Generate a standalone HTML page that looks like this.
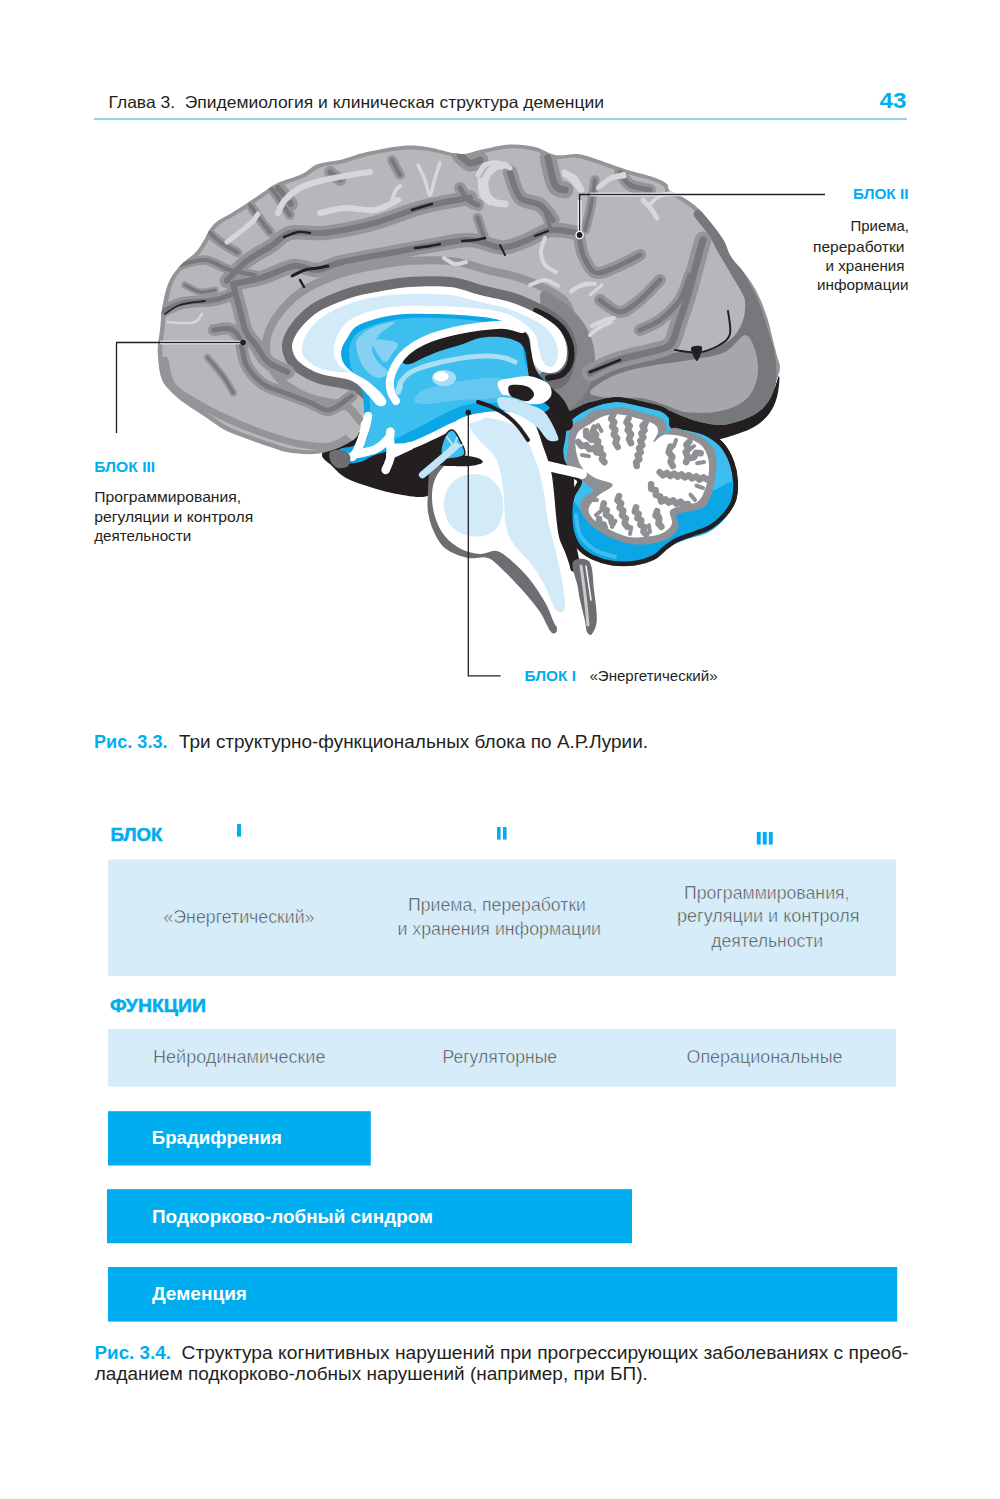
<!DOCTYPE html>
<html><head><meta charset="utf-8"><title>Page 43</title>
<style>
html,body{margin:0;padding:0;background:#fff;}
body{width:1000px;height:1499px;position:relative;overflow:hidden;font-family:"Liberation Sans", sans-serif;}
</style></head>
<body>
<svg width="1000" height="1499" viewBox="0 0 1000 1499" style="position:absolute;left:0;top:0">
<g font-family='"Liberation Sans", sans-serif'>

<rect x="237" y="824" width="4" height="12.6" fill="#00aeef"/>
<rect x="497" y="827" width="3.6" height="12.6" fill="#00aeef"/>
<rect x="503" y="827" width="3.6" height="12.6" fill="#00aeef"/>
<rect x="756.8" y="832" width="3.9" height="12.6" fill="#00aeef"/>
<rect x="762.8" y="832" width="3.9" height="12.6" fill="#00aeef"/>
<rect x="768.8" y="832" width="3.9" height="12.6" fill="#00aeef"/>
<rect x="108" y="859.5" width="788" height="116.5" fill="#d7ecf9"/>
<rect x="108" y="1029" width="788" height="57.5" fill="#d7ecf9"/>
<rect x="108" y="1111.2" width="262.8" height="54.3" fill="#00aeef"/>
<rect x="107" y="1189.2" width="525" height="54" fill="#00aeef"/>
<rect x="108" y="1267" width="789.2" height="54.6" fill="#00aeef"/>
<line x1="94" y1="119" x2="907" y2="119" stroke="#6ec4e9" stroke-width="1.6"/>

<path d="M322.0,454.0 C323.3,449.7 330.3,444.8 340.0,440.0 C349.7,435.2 365.0,430.0 380.0,425.0 C395.0,420.0 413.3,415.0 430.0,410.0 C446.7,405.0 466.7,401.7 480.0,395.0 C493.3,388.3 502.0,378.3 510.0,370.0 C518.0,361.7 522.2,344.7 528.0,345.0 C533.8,345.3 538.8,363.7 545.0,372.0 C551.2,380.3 555.8,391.2 565.0,395.0 C574.2,398.8 587.5,394.5 600.0,395.0 C612.5,395.5 628.3,396.3 640.0,398.0 C651.7,399.7 660.0,402.2 670.0,405.0 C680.0,407.8 688.3,413.3 700.0,415.0 C711.7,416.7 728.3,418.3 740.0,415.0 C751.7,411.7 763.5,401.5 770.0,395.0 C776.5,388.5 777.8,375.7 779.0,376.0 C780.2,376.3 778.7,390.7 777.0,397.0 C775.3,403.3 772.8,409.0 769.0,414.0 C765.2,419.0 760.3,423.3 754.0,427.0 C747.7,430.7 737.5,433.8 731.0,436.0 C724.5,438.2 720.2,439.3 715.0,440.0 C709.8,440.7 705.0,440.7 700.0,440.0 C695.0,439.3 689.7,437.3 685.0,436.0 C680.3,434.7 675.3,434.7 672.0,432.0 C668.7,429.3 668.7,422.8 665.0,420.0 C661.3,417.2 657.5,416.7 650.0,415.0 C642.5,413.3 628.3,410.8 620.0,410.0 C611.7,409.2 607.5,409.3 600.0,410.0 C592.5,410.7 580.3,409.0 575.0,414.0 C569.7,419.0 568.2,429.0 568.0,440.0 C567.8,451.0 573.0,465.0 574.0,480.0 C575.0,495.0 573.0,515.7 574.0,530.0 C575.0,544.3 580.0,559.0 580.0,566.0 C580.0,573.0 577.0,572.7 574.0,572.0 C571.0,571.3 566.3,566.5 562.0,562.0 C557.7,557.5 550.8,555.3 548.0,545.0 C545.2,534.7 547.3,515.8 545.0,500.0 C542.7,484.2 541.5,461.7 534.0,450.0 C526.5,438.3 512.3,431.7 500.0,430.0 C487.7,428.3 470.0,433.3 460.0,440.0 C450.0,446.7 444.7,461.3 440.0,470.0 C435.3,478.7 435.3,487.5 432.0,492.0 C428.7,496.5 426.7,496.8 420.0,497.0 C413.3,497.2 400.3,494.7 392.0,493.0 C383.7,491.3 377.7,489.5 370.0,487.0 C362.3,484.5 352.3,481.5 346.0,478.0 C339.7,474.5 336.0,470.0 332.0,466.0 C328.0,462.0 320.7,458.3 322.0,454.0Z" fill="#231f20"/>
<path d="M185.0,403.6 C179.1,399.2 173.8,394.8 169.8,390.4 C165.8,386.0 163.0,383.6 161.0,377.0 C159.0,370.4 157.9,358.8 157.7,351.0 C157.5,343.2 159.3,336.8 160.0,330.0 C160.7,323.2 161.0,316.7 162.0,310.0 C163.0,303.3 164.3,295.7 166.0,290.0 C167.7,284.3 169.3,280.3 172.0,276.0 C174.7,271.7 178.0,268.0 182.0,264.0 C186.0,260.0 192.3,256.0 196.0,252.0 C199.7,248.0 201.0,244.7 204.0,240.0 C207.0,235.3 209.7,228.3 214.0,224.0 C218.3,219.7 224.7,217.3 230.0,214.0 C235.3,210.7 240.7,207.5 246.0,204.0 C251.3,200.5 256.7,196.5 262.0,193.0 C267.3,189.5 271.3,186.2 278.0,183.0 C284.7,179.8 295.3,177.2 302.0,174.0 C308.7,170.8 311.7,166.3 318.0,164.0 C324.3,161.7 332.2,161.9 340.0,160.0 C347.8,158.1 354.7,154.8 365.0,152.5 C375.3,150.2 391.7,146.9 402.0,146.0 C412.3,145.1 417.3,145.7 427.0,147.0 C436.7,148.3 451.2,153.5 460.0,154.0 C468.8,154.5 471.7,151.6 480.0,150.0 C488.3,148.4 500.8,145.0 510.0,144.5 C519.2,144.0 527.5,145.2 535.0,147.0 C542.5,148.8 548.0,153.8 555.0,155.0 C562.0,156.2 570.7,153.5 577.0,154.0 C583.3,154.5 584.6,155.3 593.0,158.0 C601.4,160.7 617.5,166.8 627.5,170.0 C637.5,173.2 646.5,174.7 653.0,177.0 C659.5,179.3 663.8,181.4 666.6,183.7 C669.4,186.0 666.9,188.1 670.0,190.6 C673.1,193.1 680.2,195.5 685.0,198.6 C689.8,201.7 694.2,204.6 698.8,209.0 C703.4,213.4 708.4,219.7 712.6,225.0 C716.8,230.3 720.9,235.7 724.0,241.0 C727.1,246.3 727.5,251.6 731.0,257.0 C734.5,262.4 741.0,268.4 744.8,273.4 C748.6,278.4 751.3,282.4 754.0,287.0 C756.7,291.6 758.7,295.6 761.0,301.0 C763.3,306.4 765.9,313.3 767.8,319.4 C769.7,325.5 770.9,331.7 772.4,337.8 C773.9,343.9 775.7,351.0 777.0,356.0 C778.3,361.0 780.2,363.7 780.0,368.0 C779.8,372.3 777.5,377.2 776.0,382.0 C774.5,386.8 773.5,392.3 771.0,397.0 C768.5,401.7 765.3,406.3 761.0,410.0 C756.7,413.7 751.5,416.5 745.0,419.0 C738.5,421.5 729.5,424.5 722.0,425.0 C714.5,425.5 706.7,423.5 700.0,422.0 C693.3,420.5 687.3,418.0 682.0,416.0 C676.7,414.0 673.3,412.0 668.0,410.0 C662.7,408.0 658.0,405.7 650.0,404.0 C642.0,402.3 630.0,400.3 620.0,400.0 C610.0,399.7 599.2,400.0 590.0,402.0 C580.8,404.0 572.5,411.5 565.0,412.0 C557.5,412.5 555.8,407.3 545.0,405.0 C534.2,402.7 517.5,398.5 500.0,398.0 C482.5,397.5 460.0,399.2 440.0,402.0 C420.0,404.8 393.0,411.8 380.0,415.0 C367.0,418.2 365.9,417.4 362.0,421.0 C358.1,424.6 359.9,432.5 356.8,436.6 C353.7,440.7 348.7,442.8 343.6,445.4 C338.5,448.0 331.9,450.5 326.0,452.0 C320.1,453.5 315.0,454.2 308.4,454.2 C301.8,454.2 293.0,453.3 286.4,452.0 C279.8,450.7 275.4,448.7 268.8,446.5 C262.2,444.3 254.1,441.6 246.8,438.8 C239.5,436.1 231.8,433.7 224.8,430.0 C217.8,426.3 211.6,421.2 205.0,416.8 C198.4,412.4 190.9,408.0 185.0,403.6Z" fill="#939598"/>
<g transform="translate(468,300) scale(0.985,0.975) translate(-468,-300)"><path d="M185.0,403.6 C179.1,399.2 173.8,394.8 169.8,390.4 C165.8,386.0 163.0,383.6 161.0,377.0 C159.0,370.4 157.9,358.8 157.7,351.0 C157.5,343.2 159.3,336.8 160.0,330.0 C160.7,323.2 161.0,316.7 162.0,310.0 C163.0,303.3 164.3,295.7 166.0,290.0 C167.7,284.3 169.3,280.3 172.0,276.0 C174.7,271.7 178.0,268.0 182.0,264.0 C186.0,260.0 192.3,256.0 196.0,252.0 C199.7,248.0 201.0,244.7 204.0,240.0 C207.0,235.3 209.7,228.3 214.0,224.0 C218.3,219.7 224.7,217.3 230.0,214.0 C235.3,210.7 240.7,207.5 246.0,204.0 C251.3,200.5 256.7,196.5 262.0,193.0 C267.3,189.5 271.3,186.2 278.0,183.0 C284.7,179.8 295.3,177.2 302.0,174.0 C308.7,170.8 311.7,166.3 318.0,164.0 C324.3,161.7 332.2,161.9 340.0,160.0 C347.8,158.1 354.7,154.8 365.0,152.5 C375.3,150.2 391.7,146.9 402.0,146.0 C412.3,145.1 417.3,145.7 427.0,147.0 C436.7,148.3 451.2,153.5 460.0,154.0 C468.8,154.5 471.7,151.6 480.0,150.0 C488.3,148.4 500.8,145.0 510.0,144.5 C519.2,144.0 527.5,145.2 535.0,147.0 C542.5,148.8 548.0,153.8 555.0,155.0 C562.0,156.2 570.7,153.5 577.0,154.0 C583.3,154.5 584.6,155.3 593.0,158.0 C601.4,160.7 617.5,166.8 627.5,170.0 C637.5,173.2 646.5,174.7 653.0,177.0 C659.5,179.3 663.8,181.4 666.6,183.7 C669.4,186.0 666.9,188.1 670.0,190.6 C673.1,193.1 680.2,195.5 685.0,198.6 C689.8,201.7 694.2,204.6 698.8,209.0 C703.4,213.4 708.4,219.7 712.6,225.0 C716.8,230.3 720.9,235.7 724.0,241.0 C727.1,246.3 727.5,251.6 731.0,257.0 C734.5,262.4 741.0,268.4 744.8,273.4 C748.6,278.4 751.3,282.4 754.0,287.0 C756.7,291.6 758.7,295.6 761.0,301.0 C763.3,306.4 765.9,313.3 767.8,319.4 C769.7,325.5 770.9,331.7 772.4,337.8 C773.9,343.9 775.7,351.0 777.0,356.0 C778.3,361.0 780.2,363.7 780.0,368.0 C779.8,372.3 777.5,377.2 776.0,382.0 C774.5,386.8 773.5,392.3 771.0,397.0 C768.5,401.7 765.3,406.3 761.0,410.0 C756.7,413.7 751.5,416.5 745.0,419.0 C738.5,421.5 729.5,424.5 722.0,425.0 C714.5,425.5 706.7,423.5 700.0,422.0 C693.3,420.5 687.3,418.0 682.0,416.0 C676.7,414.0 673.3,412.0 668.0,410.0 C662.7,408.0 658.0,405.7 650.0,404.0 C642.0,402.3 630.0,400.3 620.0,400.0 C610.0,399.7 599.2,400.0 590.0,402.0 C580.8,404.0 572.5,411.5 565.0,412.0 C557.5,412.5 555.8,407.3 545.0,405.0 C534.2,402.7 517.5,398.5 500.0,398.0 C482.5,397.5 460.0,399.2 440.0,402.0 C420.0,404.8 393.0,411.8 380.0,415.0 C367.0,418.2 365.9,417.4 362.0,421.0 C358.1,424.6 359.9,432.5 356.8,436.6 C353.7,440.7 348.7,442.8 343.6,445.4 C338.5,448.0 331.9,450.5 326.0,452.0 C320.1,453.5 315.0,454.2 308.4,454.2 C301.8,454.2 293.0,453.3 286.4,452.0 C279.8,450.7 275.4,448.7 268.8,446.5 C262.2,444.3 254.1,441.6 246.8,438.8 C239.5,436.1 231.8,433.7 224.8,430.0 C217.8,426.3 211.6,421.2 205.0,416.8 C198.4,412.4 190.9,408.0 185.0,403.6Z" fill="#b5b7ba"/></g>
<clipPath id="silclip"><path d="M185.0,403.6 C179.1,399.2 173.8,394.8 169.8,390.4 C165.8,386.0 163.0,383.6 161.0,377.0 C159.0,370.4 157.9,358.8 157.7,351.0 C157.5,343.2 159.3,336.8 160.0,330.0 C160.7,323.2 161.0,316.7 162.0,310.0 C163.0,303.3 164.3,295.7 166.0,290.0 C167.7,284.3 169.3,280.3 172.0,276.0 C174.7,271.7 178.0,268.0 182.0,264.0 C186.0,260.0 192.3,256.0 196.0,252.0 C199.7,248.0 201.0,244.7 204.0,240.0 C207.0,235.3 209.7,228.3 214.0,224.0 C218.3,219.7 224.7,217.3 230.0,214.0 C235.3,210.7 240.7,207.5 246.0,204.0 C251.3,200.5 256.7,196.5 262.0,193.0 C267.3,189.5 271.3,186.2 278.0,183.0 C284.7,179.8 295.3,177.2 302.0,174.0 C308.7,170.8 311.7,166.3 318.0,164.0 C324.3,161.7 332.2,161.9 340.0,160.0 C347.8,158.1 354.7,154.8 365.0,152.5 C375.3,150.2 391.7,146.9 402.0,146.0 C412.3,145.1 417.3,145.7 427.0,147.0 C436.7,148.3 451.2,153.5 460.0,154.0 C468.8,154.5 471.7,151.6 480.0,150.0 C488.3,148.4 500.8,145.0 510.0,144.5 C519.2,144.0 527.5,145.2 535.0,147.0 C542.5,148.8 548.0,153.8 555.0,155.0 C562.0,156.2 570.7,153.5 577.0,154.0 C583.3,154.5 584.6,155.3 593.0,158.0 C601.4,160.7 617.5,166.8 627.5,170.0 C637.5,173.2 646.5,174.7 653.0,177.0 C659.5,179.3 663.8,181.4 666.6,183.7 C669.4,186.0 666.9,188.1 670.0,190.6 C673.1,193.1 680.2,195.5 685.0,198.6 C689.8,201.7 694.2,204.6 698.8,209.0 C703.4,213.4 708.4,219.7 712.6,225.0 C716.8,230.3 720.9,235.7 724.0,241.0 C727.1,246.3 727.5,251.6 731.0,257.0 C734.5,262.4 741.0,268.4 744.8,273.4 C748.6,278.4 751.3,282.4 754.0,287.0 C756.7,291.6 758.7,295.6 761.0,301.0 C763.3,306.4 765.9,313.3 767.8,319.4 C769.7,325.5 770.9,331.7 772.4,337.8 C773.9,343.9 775.7,351.0 777.0,356.0 C778.3,361.0 780.2,363.7 780.0,368.0 C779.8,372.3 777.5,377.2 776.0,382.0 C774.5,386.8 773.5,392.3 771.0,397.0 C768.5,401.7 765.3,406.3 761.0,410.0 C756.7,413.7 751.5,416.5 745.0,419.0 C738.5,421.5 729.5,424.5 722.0,425.0 C714.5,425.5 706.7,423.5 700.0,422.0 C693.3,420.5 687.3,418.0 682.0,416.0 C676.7,414.0 673.3,412.0 668.0,410.0 C662.7,408.0 658.0,405.7 650.0,404.0 C642.0,402.3 630.0,400.3 620.0,400.0 C610.0,399.7 599.2,400.0 590.0,402.0 C580.8,404.0 572.5,411.5 565.0,412.0 C557.5,412.5 555.8,407.3 545.0,405.0 C534.2,402.7 517.5,398.5 500.0,398.0 C482.5,397.5 460.0,399.2 440.0,402.0 C420.0,404.8 393.0,411.8 380.0,415.0 C367.0,418.2 365.9,417.4 362.0,421.0 C358.1,424.6 359.9,432.5 356.8,436.6 C353.7,440.7 348.7,442.8 343.6,445.4 C338.5,448.0 331.9,450.5 326.0,452.0 C320.1,453.5 315.0,454.2 308.4,454.2 C301.8,454.2 293.0,453.3 286.4,452.0 C279.8,450.7 275.4,448.7 268.8,446.5 C262.2,444.3 254.1,441.6 246.8,438.8 C239.5,436.1 231.8,433.7 224.8,430.0 C217.8,426.3 211.6,421.2 205.0,416.8 C198.4,412.4 190.9,408.0 185.0,403.6Z"/></clipPath>
<g clip-path="url(#silclip)">
<path d="M575.0,372.0 C580.3,363.7 589.2,364.7 600.0,362.0 C610.8,359.3 626.7,357.7 640.0,356.0 C653.3,354.3 668.3,353.0 680.0,352.0 C691.7,351.0 700.8,352.8 710.0,350.0 C719.2,347.2 729.2,341.7 735.0,335.0 C740.8,328.3 744.2,319.2 745.0,310.0 C745.8,300.8 744.2,290.0 740.0,280.0 C735.8,270.0 725.8,259.2 720.0,250.0 C714.2,240.8 708.3,231.3 705.0,225.0 C701.7,218.7 698.3,211.8 700.0,212.0 C701.7,212.2 710.0,219.7 715.0,226.0 C720.0,232.3 725.0,241.8 730.0,250.0 C735.0,258.2 740.3,266.7 745.0,275.0 C749.7,283.3 754.2,290.8 758.0,300.0 C761.8,309.2 765.2,320.8 768.0,330.0 C770.8,339.2 773.7,346.3 775.0,355.0 C776.3,363.7 776.8,374.8 776.0,382.0 C775.2,389.2 772.7,393.3 770.0,398.0 C767.3,402.7 764.3,406.5 760.0,410.0 C755.7,413.5 750.3,416.5 744.0,419.0 C737.7,421.5 729.3,424.5 722.0,425.0 C714.7,425.5 706.7,423.5 700.0,422.0 C693.3,420.5 687.3,418.0 682.0,416.0 C676.7,414.0 673.3,412.0 668.0,410.0 C662.7,408.0 658.0,405.7 650.0,404.0 C642.0,402.3 630.0,400.3 620.0,400.0 C610.0,399.7 598.7,400.0 590.0,402.0 C581.3,404.0 570.5,417.0 568.0,412.0 C565.5,407.0 569.7,380.3 575.0,372.0Z" fill="#77787b"/>
<path d="M590.0,392.0 C590.8,388.2 605.0,379.3 615.0,375.0 C625.0,370.7 637.5,368.5 650.0,366.0 C662.5,363.5 677.5,362.3 690.0,360.0 C702.5,357.7 715.8,356.2 725.0,352.0 C734.2,347.8 740.0,335.3 745.0,335.0 C750.0,334.7 752.8,343.8 755.0,350.0 C757.2,356.2 758.5,365.0 758.0,372.0 C757.5,379.0 755.3,386.5 752.0,392.0 C748.7,397.5 744.2,401.7 738.0,405.0 C731.8,408.3 723.8,410.8 715.0,412.0 C706.2,413.2 693.3,413.2 685.0,412.0 C676.7,410.8 672.5,407.3 665.0,405.0 C657.5,402.7 649.2,399.2 640.0,398.0 C630.8,396.8 618.3,399.0 610.0,398.0 C601.7,397.0 589.2,395.8 590.0,392.0Z" fill="#a5a7aa"/>
<path d="M698.0,214.0 C700.3,217.0 708.0,226.0 712.0,232.0 C716.0,238.0 718.2,243.3 722.0,250.0 C725.8,256.7 730.7,264.5 735.0,272.0 C739.3,279.5 744.2,287.0 748.0,295.0 C751.8,303.0 755.0,311.7 758.0,320.0 C761.0,328.3 763.8,336.7 766.0,345.0 C768.2,353.3 770.2,362.2 771.0,370.0 C771.8,377.8 772.2,385.7 771.0,392.0 C769.8,398.3 765.2,405.3 764.0,408.0" fill="none" stroke="#77787b" stroke-width="9" stroke-linecap="round" stroke-linejoin="round"/>
<path d="M165.0,360.0 C166.2,364.2 167.0,378.0 172.0,385.0 C177.0,392.0 185.3,396.2 195.0,402.0 C204.7,407.8 218.3,414.7 230.0,420.0 C241.7,425.3 253.3,430.0 265.0,434.0 C276.7,438.0 289.2,442.0 300.0,444.0 C310.8,446.0 321.7,447.3 330.0,446.0 C338.3,444.7 346.7,437.7 350.0,436.0" fill="none" stroke="#939598" stroke-width="7" stroke-linecap="round" stroke-linejoin="round"/>
<path d="M380.0,404.0 C377.7,401.3 371.0,392.0 366.0,388.0 C361.0,384.0 357.5,382.3 350.0,380.0 C342.5,377.7 328.8,376.5 321.0,374.0 C313.2,371.5 307.4,368.0 303.0,365.0 C298.6,362.0 296.4,359.5 294.6,356.0 C292.8,352.5 291.4,348.4 292.2,344.0 C293.0,339.6 295.6,334.6 299.4,329.6 C303.2,324.6 309.4,318.2 315.0,314.0 C320.6,309.8 326.0,307.4 333.0,304.4 C340.0,301.4 349.0,298.2 357.0,296.0 C365.0,293.8 372.2,292.7 381.0,291.2 C389.8,289.7 398.5,287.7 410.0,287.0 C421.5,286.3 438.3,285.7 450.0,287.0 C461.7,288.3 470.0,292.5 480.0,295.0 C490.0,297.5 501.7,299.5 510.0,302.0 C518.3,304.5 524.2,307.3 530.0,310.0 C535.8,312.7 542.5,316.7 545.0,318.0" fill="none" stroke="#b5b7ba" stroke-width="92" stroke-linecap="round" stroke-linejoin="round"/>
<path d="M380.0,404.0 C377.7,401.3 371.0,392.0 366.0,388.0 C361.0,384.0 357.5,382.3 350.0,380.0 C342.5,377.7 328.8,376.5 321.0,374.0 C313.2,371.5 307.4,368.0 303.0,365.0 C298.6,362.0 296.4,359.5 294.6,356.0 C292.8,352.5 291.4,348.4 292.2,344.0 C293.0,339.6 295.6,334.6 299.4,329.6 C303.2,324.6 309.4,318.2 315.0,314.0 C320.6,309.8 326.0,307.4 333.0,304.4 C340.0,301.4 349.0,298.2 357.0,296.0 C365.0,293.8 372.2,292.7 381.0,291.2 C389.8,289.7 398.5,287.7 410.0,287.0 C421.5,286.3 438.3,285.7 450.0,287.0 C461.7,288.3 470.0,292.5 480.0,295.0 C490.0,297.5 501.7,299.5 510.0,302.0 C518.3,304.5 524.2,307.3 530.0,310.0 C535.8,312.7 542.5,316.7 545.0,318.0" fill="none" stroke="#939598" stroke-width="60" stroke-linecap="round" stroke-linejoin="round"/>
<path d="M380.0,404.0 C377.7,401.3 371.0,392.0 366.0,388.0 C361.0,384.0 357.5,382.3 350.0,380.0 C342.5,377.7 328.8,376.5 321.0,374.0 C313.2,371.5 307.4,368.0 303.0,365.0 C298.6,362.0 296.4,359.5 294.6,356.0 C292.8,352.5 291.4,348.4 292.2,344.0 C293.0,339.6 295.6,334.6 299.4,329.6 C303.2,324.6 309.4,318.2 315.0,314.0 C320.6,309.8 326.0,307.4 333.0,304.4 C340.0,301.4 349.0,298.2 357.0,296.0 C365.0,293.8 372.2,292.7 381.0,291.2 C389.8,289.7 398.5,287.7 410.0,287.0 C421.5,286.3 438.3,285.7 450.0,287.0 C461.7,288.3 470.0,292.5 480.0,295.0 C490.0,297.5 501.7,299.5 510.0,302.0 C518.3,304.5 524.2,307.3 530.0,310.0 C535.8,312.7 542.5,316.7 545.0,318.0" fill="none" stroke="#b5b7ba" stroke-width="44" stroke-linecap="round" stroke-linejoin="round"/>
<path d="M540.0,296.0 C540.7,284.3 553.3,296.3 560.0,300.0 C566.7,303.7 574.7,311.3 580.0,318.0 C585.3,324.7 589.5,332.2 592.0,340.0 C594.5,347.8 595.3,357.5 595.0,365.0 C594.7,372.5 592.5,379.2 590.0,385.0 C587.5,390.8 584.2,395.8 580.0,400.0 C575.8,404.2 569.7,410.8 565.0,410.0 C560.3,409.2 553.5,401.7 552.0,395.0 C550.5,388.3 558.0,386.5 556.0,370.0 C554.0,353.5 539.3,307.7 540.0,296.0Z" fill="#848689"/>
<path d="M380.0,404.0 C377.7,401.3 371.0,392.0 366.0,388.0 C361.0,384.0 357.5,382.3 350.0,380.0 C342.5,377.7 328.8,376.5 321.0,374.0 C313.2,371.5 307.4,368.0 303.0,365.0 C298.6,362.0 296.4,359.5 294.6,356.0 C292.8,352.5 291.4,348.4 292.2,344.0 C293.0,339.6 295.6,334.6 299.4,329.6 C303.2,324.6 309.4,318.2 315.0,314.0 C320.6,309.8 326.0,307.4 333.0,304.4 C340.0,301.4 349.0,298.2 357.0,296.0 C365.0,293.8 372.2,292.7 381.0,291.2 C389.8,289.7 398.5,287.7 410.0,287.0 C421.5,286.3 438.3,285.7 450.0,287.0 C461.7,288.3 470.0,292.5 480.0,295.0 C490.0,297.5 501.7,299.5 510.0,302.0 C518.3,304.5 524.2,307.3 530.0,310.0 C535.8,312.7 540.3,315.0 545.0,318.0 C549.7,321.0 554.7,324.3 558.0,328.0 C561.3,331.7 563.5,336.0 565.0,340.0 C566.5,344.0 567.8,346.0 567.0,352.0 C566.2,358.0 563.2,371.3 560.0,376.0 C556.8,380.7 550.0,379.3 548.0,380.0" fill="none" stroke="#6d6e71" stroke-width="20" stroke-linecap="round" stroke-linejoin="round"/>
<path d="M159.6,312.8 C163.3,311.2 172.9,305.3 182.0,303.2 C191.1,301.1 205.5,301.6 214.0,300.0 C222.5,298.4 230.0,294.7 233.2,293.6" fill="none" stroke="#939598" stroke-width="12.0" stroke-linecap="round" stroke-linejoin="round"/>
<path d="M226.8,280.8 C230.0,277.6 238.5,267.5 246.0,261.6 C253.5,255.7 264.1,250.4 271.6,245.6 C279.1,240.8 281.7,234.9 290.8,232.8 C299.9,230.7 312.1,234.4 326.0,232.8 C339.9,231.2 358.0,227.5 374.0,223.2 C390.0,218.9 406.0,211.5 422.0,207.2 C438.0,202.9 462.0,199.2 470.0,197.6" fill="none" stroke="#939598" stroke-width="14.399999999999999" stroke-linecap="round" stroke-linejoin="round"/>
<path d="M233.0,284.0 C237.8,282.9 251.8,280.6 262.0,277.6 C272.2,274.6 284.9,267.3 294.0,266.0 C303.1,264.7 308.4,270.7 316.4,270.0 C324.4,269.3 329.7,264.8 342.0,262.0 C354.3,259.2 375.6,255.7 390.0,253.0 C404.4,250.3 415.1,248.2 428.4,246.0 C441.7,243.8 457.6,239.8 470.0,240.0 C482.4,240.2 492.9,247.5 502.5,247.5 C512.1,247.5 519.6,242.9 527.5,240.0 C535.4,237.1 541.6,231.2 550.0,230.0 C558.4,228.8 573.3,232.5 578.0,233.0" fill="none" stroke="#939598" stroke-width="14.399999999999999" stroke-linecap="round" stroke-linejoin="round"/>
<path d="M233.0,284.0 C234.2,288.3 237.8,302.0 240.0,310.0 C242.2,318.0 243.4,326.2 246.0,332.0 C248.6,337.8 251.9,339.8 255.6,344.8 C259.3,349.8 262.7,357.5 268.0,362.0 C273.3,366.5 284.3,370.3 287.6,372.0" fill="none" stroke="#939598" stroke-width="14.399999999999999" stroke-linecap="round" stroke-linejoin="round"/>
<path d="M214.0,330.0 C216.7,329.8 225.7,327.6 230.0,329.0 C234.3,330.4 236.9,332.6 239.6,338.4 C242.3,344.2 242.3,356.5 246.0,364.0 C249.7,371.5 255.6,378.4 262.0,383.2 C268.4,388.0 276.4,389.6 284.4,392.8 C292.4,396.0 302.5,399.5 310.0,402.4 C317.5,405.3 322.3,411.1 329.2,410.0 C336.1,408.9 347.9,398.3 351.6,396.0" fill="none" stroke="#939598" stroke-width="12.0" stroke-linecap="round" stroke-linejoin="round"/>
<path d="M207.6,357.6 C210.3,360.8 219.3,370.9 223.6,376.8 C227.9,382.7 231.6,390.1 233.2,392.8" fill="none" stroke="#939598" stroke-width="7.199999999999999" stroke-linecap="round" stroke-linejoin="round"/>
<path d="M579.0,234.0 C579.7,237.5 580.3,248.6 583.0,255.0 C585.7,261.4 589.7,270.4 595.0,272.5 C600.3,274.6 607.5,270.4 615.0,267.5 C622.5,264.6 635.8,257.1 640.0,255.0" fill="none" stroke="#939598" stroke-width="12.0" stroke-linecap="round" stroke-linejoin="round"/>
<path d="M477.5,217.5 L485.0,240.0" fill="none" stroke="#939598" stroke-width="9.6" stroke-linecap="round" stroke-linejoin="round"/>
<path d="M545.0,210.0 L550.0,227.5" fill="none" stroke="#939598" stroke-width="9.6" stroke-linecap="round" stroke-linejoin="round"/>
<path d="M510.0,172.5 C511.7,176.7 515.0,192.1 520.0,197.5 C525.0,202.9 534.6,201.2 540.0,205.0 C545.4,208.8 550.4,217.5 552.5,220.0" fill="none" stroke="#939598" stroke-width="14.399999999999999" stroke-linecap="round" stroke-linejoin="round"/>
<path d="M460.0,188.0 C461.3,190.0 465.0,197.2 468.0,200.0 C471.0,202.8 476.3,204.2 478.0,205.0" fill="none" stroke="#939598" stroke-width="12.0" stroke-linecap="round" stroke-linejoin="round"/>
<path d="M548.0,158.0 C549.2,162.5 552.2,179.7 555.0,185.0 C557.8,190.3 563.3,189.2 565.0,190.0" fill="none" stroke="#939598" stroke-width="16.8" stroke-linecap="round" stroke-linejoin="round"/>
<path d="M595.0,180.0 C594.2,185.0 591.7,201.7 590.0,210.0 C588.3,218.3 585.8,226.7 585.0,230.0" fill="none" stroke="#939598" stroke-width="9.6" stroke-linecap="round" stroke-linejoin="round"/>
<path d="M600.0,300.0 C603.3,302.0 613.3,312.0 620.0,312.0 C626.7,312.0 633.3,305.3 640.0,300.0 C646.7,294.7 656.7,283.3 660.0,280.0" fill="none" stroke="#939598" stroke-width="12.0" stroke-linecap="round" stroke-linejoin="round"/>
<path d="M640.0,330.0 C643.3,328.3 653.3,325.0 660.0,320.0 C666.7,315.0 675.0,307.5 680.0,300.0 C685.0,292.5 688.3,279.2 690.0,275.0" fill="none" stroke="#939598" stroke-width="12.0" stroke-linecap="round" stroke-linejoin="round"/>
<path d="M703.0,240.0 C701.8,244.2 698.5,255.8 696.0,265.0 C693.5,274.2 691.0,285.0 688.0,295.0 C685.0,305.0 681.0,316.7 678.0,325.0 C675.0,333.3 674.7,340.5 670.0,345.0 C665.3,349.5 656.8,350.0 650.0,352.0 C643.2,354.0 635.7,355.2 629.0,357.0 C622.3,358.8 616.5,360.3 610.0,363.0 C603.5,365.7 593.3,371.3 590.0,373.0" fill="none" stroke="#939598" stroke-width="16.8" stroke-linecap="round" stroke-linejoin="round"/>
<path d="M460.0,155.0 C461.7,156.3 466.7,162.2 470.0,163.0 C473.3,163.8 478.3,160.5 480.0,160.0" fill="none" stroke="#939598" stroke-width="16.8" stroke-linecap="round" stroke-linejoin="round"/>
<path d="M278.0,188.0 L290.8,204.0" fill="none" stroke="#939598" stroke-width="14.399999999999999" stroke-linecap="round" stroke-linejoin="round"/>
<path d="M330.0,172.0 L340.0,180.0" fill="none" stroke="#939598" stroke-width="12.0" stroke-linecap="round" stroke-linejoin="round"/>
<path d="M250.0,205.0 C252.0,207.8 258.7,217.5 262.0,222.0 C265.3,226.5 268.7,230.3 270.0,232.0" fill="none" stroke="#939598" stroke-width="9.6" stroke-linecap="round" stroke-linejoin="round"/>
<path d="M392.0,160.0 L400.0,175.0" fill="none" stroke="#939598" stroke-width="9.6" stroke-linecap="round" stroke-linejoin="round"/>
<path d="M200.0,222.5 C202.9,225.4 211.2,235.0 217.5,240.0 C223.8,245.0 234.2,250.4 237.5,252.5" fill="none" stroke="#939598" stroke-width="9.6" stroke-linecap="round" stroke-linejoin="round"/>
<path d="M180.0,265.0 C184.2,264.2 196.7,259.2 205.0,260.0 C213.3,260.8 221.7,267.5 230.0,270.0 C238.3,272.5 250.8,274.2 255.0,275.0" fill="none" stroke="#939598" stroke-width="9.6" stroke-linecap="round" stroke-linejoin="round"/>
<path d="M262.5,180.0 C264.2,181.7 267.9,184.2 272.5,190.0 C277.1,195.8 287.1,210.8 290.0,215.0" fill="none" stroke="#939598" stroke-width="9.6" stroke-linecap="round" stroke-linejoin="round"/>
<path d="M185.0,285.0 C187.5,286.2 195.0,291.2 200.0,292.0 C205.0,292.8 212.5,290.3 215.0,290.0" fill="none" stroke="#939598" stroke-width="7.199999999999999" stroke-linecap="round" stroke-linejoin="round"/>
<path d="M620.0,172.0 C621.7,174.2 625.0,182.0 630.0,185.0 C635.0,188.0 646.7,189.2 650.0,190.0" fill="none" stroke="#939598" stroke-width="12.0" stroke-linecap="round" stroke-linejoin="round"/>
<path d="M159.6,312.8 C163.3,311.2 172.9,305.3 182.0,303.2 C191.1,301.1 205.5,301.6 214.0,300.0 C222.5,298.4 230.0,294.7 233.2,293.6" fill="none" stroke="#77787b" stroke-width="5" stroke-linecap="round" stroke-linejoin="round"/>
<path d="M226.8,280.8 C230.0,277.6 238.5,267.5 246.0,261.6 C253.5,255.7 264.1,250.4 271.6,245.6 C279.1,240.8 281.7,234.9 290.8,232.8 C299.9,230.7 312.1,234.4 326.0,232.8 C339.9,231.2 358.0,227.5 374.0,223.2 C390.0,218.9 406.0,211.5 422.0,207.2 C438.0,202.9 462.0,199.2 470.0,197.6" fill="none" stroke="#77787b" stroke-width="6" stroke-linecap="round" stroke-linejoin="round"/>
<path d="M233.0,284.0 C237.8,282.9 251.8,280.6 262.0,277.6 C272.2,274.6 284.9,267.3 294.0,266.0 C303.1,264.7 308.4,270.7 316.4,270.0 C324.4,269.3 329.7,264.8 342.0,262.0 C354.3,259.2 375.6,255.7 390.0,253.0 C404.4,250.3 415.1,248.2 428.4,246.0 C441.7,243.8 457.6,239.8 470.0,240.0 C482.4,240.2 492.9,247.5 502.5,247.5 C512.1,247.5 519.6,242.9 527.5,240.0 C535.4,237.1 541.6,231.2 550.0,230.0 C558.4,228.8 573.3,232.5 578.0,233.0" fill="none" stroke="#77787b" stroke-width="6" stroke-linecap="round" stroke-linejoin="round"/>
<path d="M233.0,284.0 C234.2,288.3 237.8,302.0 240.0,310.0 C242.2,318.0 243.4,326.2 246.0,332.0 C248.6,337.8 251.9,339.8 255.6,344.8 C259.3,349.8 262.7,357.5 268.0,362.0 C273.3,366.5 284.3,370.3 287.6,372.0" fill="none" stroke="#77787b" stroke-width="6" stroke-linecap="round" stroke-linejoin="round"/>
<path d="M214.0,330.0 C216.7,329.8 225.7,327.6 230.0,329.0 C234.3,330.4 236.9,332.6 239.6,338.4 C242.3,344.2 242.3,356.5 246.0,364.0 C249.7,371.5 255.6,378.4 262.0,383.2 C268.4,388.0 276.4,389.6 284.4,392.8 C292.4,396.0 302.5,399.5 310.0,402.4 C317.5,405.3 322.3,411.1 329.2,410.0 C336.1,408.9 347.9,398.3 351.6,396.0" fill="none" stroke="#77787b" stroke-width="5" stroke-linecap="round" stroke-linejoin="round"/>
<path d="M207.6,357.6 C210.3,360.8 219.3,370.9 223.6,376.8 C227.9,382.7 231.6,390.1 233.2,392.8" fill="none" stroke="#77787b" stroke-width="3" stroke-linecap="round" stroke-linejoin="round"/>
<path d="M579.0,234.0 C579.7,237.5 580.3,248.6 583.0,255.0 C585.7,261.4 589.7,270.4 595.0,272.5 C600.3,274.6 607.5,270.4 615.0,267.5 C622.5,264.6 635.8,257.1 640.0,255.0" fill="none" stroke="#77787b" stroke-width="5" stroke-linecap="round" stroke-linejoin="round"/>
<path d="M477.5,217.5 L485.0,240.0" fill="none" stroke="#77787b" stroke-width="4" stroke-linecap="round" stroke-linejoin="round"/>
<path d="M545.0,210.0 L550.0,227.5" fill="none" stroke="#77787b" stroke-width="4" stroke-linecap="round" stroke-linejoin="round"/>
<path d="M510.0,172.5 C511.7,176.7 515.0,192.1 520.0,197.5 C525.0,202.9 534.6,201.2 540.0,205.0 C545.4,208.8 550.4,217.5 552.5,220.0" fill="none" stroke="#77787b" stroke-width="6" stroke-linecap="round" stroke-linejoin="round"/>
<path d="M460.0,188.0 C461.3,190.0 465.0,197.2 468.0,200.0 C471.0,202.8 476.3,204.2 478.0,205.0" fill="none" stroke="#77787b" stroke-width="5" stroke-linecap="round" stroke-linejoin="round"/>
<path d="M548.0,158.0 C549.2,162.5 552.2,179.7 555.0,185.0 C557.8,190.3 563.3,189.2 565.0,190.0" fill="none" stroke="#77787b" stroke-width="7" stroke-linecap="round" stroke-linejoin="round"/>
<path d="M595.0,180.0 C594.2,185.0 591.7,201.7 590.0,210.0 C588.3,218.3 585.8,226.7 585.0,230.0" fill="none" stroke="#77787b" stroke-width="4" stroke-linecap="round" stroke-linejoin="round"/>
<path d="M600.0,300.0 C603.3,302.0 613.3,312.0 620.0,312.0 C626.7,312.0 633.3,305.3 640.0,300.0 C646.7,294.7 656.7,283.3 660.0,280.0" fill="none" stroke="#77787b" stroke-width="5" stroke-linecap="round" stroke-linejoin="round"/>
<path d="M640.0,330.0 C643.3,328.3 653.3,325.0 660.0,320.0 C666.7,315.0 675.0,307.5 680.0,300.0 C685.0,292.5 688.3,279.2 690.0,275.0" fill="none" stroke="#77787b" stroke-width="5" stroke-linecap="round" stroke-linejoin="round"/>
<path d="M703.0,240.0 C701.8,244.2 698.5,255.8 696.0,265.0 C693.5,274.2 691.0,285.0 688.0,295.0 C685.0,305.0 681.0,316.7 678.0,325.0 C675.0,333.3 674.7,340.5 670.0,345.0 C665.3,349.5 656.8,350.0 650.0,352.0 C643.2,354.0 635.7,355.2 629.0,357.0 C622.3,358.8 616.5,360.3 610.0,363.0 C603.5,365.7 593.3,371.3 590.0,373.0" fill="none" stroke="#77787b" stroke-width="7" stroke-linecap="round" stroke-linejoin="round"/>
<path d="M460.0,155.0 C461.7,156.3 466.7,162.2 470.0,163.0 C473.3,163.8 478.3,160.5 480.0,160.0" fill="none" stroke="#77787b" stroke-width="7" stroke-linecap="round" stroke-linejoin="round"/>
<path d="M278.0,188.0 L290.8,204.0" fill="none" stroke="#77787b" stroke-width="6" stroke-linecap="round" stroke-linejoin="round"/>
<path d="M330.0,172.0 L340.0,180.0" fill="none" stroke="#77787b" stroke-width="5" stroke-linecap="round" stroke-linejoin="round"/>
<path d="M250.0,205.0 C252.0,207.8 258.7,217.5 262.0,222.0 C265.3,226.5 268.7,230.3 270.0,232.0" fill="none" stroke="#77787b" stroke-width="4" stroke-linecap="round" stroke-linejoin="round"/>
<path d="M392.0,160.0 L400.0,175.0" fill="none" stroke="#77787b" stroke-width="4" stroke-linecap="round" stroke-linejoin="round"/>
<path d="M200.0,222.5 C202.9,225.4 211.2,235.0 217.5,240.0 C223.8,245.0 234.2,250.4 237.5,252.5" fill="none" stroke="#77787b" stroke-width="4" stroke-linecap="round" stroke-linejoin="round"/>
<path d="M180.0,265.0 C184.2,264.2 196.7,259.2 205.0,260.0 C213.3,260.8 221.7,267.5 230.0,270.0 C238.3,272.5 250.8,274.2 255.0,275.0" fill="none" stroke="#77787b" stroke-width="4" stroke-linecap="round" stroke-linejoin="round"/>
<path d="M262.5,180.0 C264.2,181.7 267.9,184.2 272.5,190.0 C277.1,195.8 287.1,210.8 290.0,215.0" fill="none" stroke="#77787b" stroke-width="4" stroke-linecap="round" stroke-linejoin="round"/>
<path d="M185.0,285.0 C187.5,286.2 195.0,291.2 200.0,292.0 C205.0,292.8 212.5,290.3 215.0,290.0" fill="none" stroke="#77787b" stroke-width="3" stroke-linecap="round" stroke-linejoin="round"/>
<path d="M620.0,172.0 C621.7,174.2 625.0,182.0 630.0,185.0 C635.0,188.0 646.7,189.2 650.0,190.0" fill="none" stroke="#77787b" stroke-width="5" stroke-linecap="round" stroke-linejoin="round"/>
<path d="M165.0,314.0 C167.5,312.5 173.3,307.2 180.0,305.0 C186.7,302.8 200.8,301.7 205.0,301.0" fill="none" stroke="#231f20" stroke-width="1.8" stroke-linecap="round" stroke-linejoin="round"/>
<path d="M284.0,237.0 C286.3,236.2 293.7,232.7 298.0,232.0 C302.3,231.3 308.0,232.8 310.0,233.0" fill="none" stroke="#231f20" stroke-width="2.4" stroke-linecap="round" stroke-linejoin="round"/>
<path d="M412.0,210.0 C414.2,209.3 421.7,207.0 425.0,206.0 C428.3,205.0 430.8,204.3 432.0,204.0" fill="none" stroke="#231f20" stroke-width="2.6" stroke-linecap="round" stroke-linejoin="round"/>
<path d="M292.0,276.0 C294.2,275.0 300.7,271.3 305.0,270.0 C309.3,268.7 314.2,268.7 318.0,268.0 C321.8,267.3 326.3,266.3 328.0,266.0" fill="none" stroke="#231f20" stroke-width="3" stroke-linecap="round" stroke-linejoin="round"/>
<path d="M300.0,280.0 L304.0,287.0" fill="none" stroke="#231f20" stroke-width="2.5" stroke-linecap="round" stroke-linejoin="round"/>
<path d="M415.0,248.0 C417.5,247.7 425.8,246.7 430.0,246.0 C434.2,245.3 438.3,244.3 440.0,244.0" fill="none" stroke="#231f20" stroke-width="2.4" stroke-linecap="round" stroke-linejoin="round"/>
<path d="M462.0,241.0 C464.2,240.8 471.2,240.5 475.0,240.0 C478.8,239.5 483.3,238.3 485.0,238.0" fill="none" stroke="#231f20" stroke-width="2.4" stroke-linecap="round" stroke-linejoin="round"/>
<path d="M500.0,245.0 L505.0,255.0" fill="none" stroke="#231f20" stroke-width="2" stroke-linecap="round" stroke-linejoin="round"/>
<path d="M535.0,236.0 L548.0,231.0" fill="none" stroke="#231f20" stroke-width="2" stroke-linecap="round" stroke-linejoin="round"/>
<path d="M590.0,372.0 C592.5,371.0 600.0,368.0 605.0,366.0 C610.0,364.0 617.5,361.0 620.0,360.0" fill="none" stroke="#231f20" stroke-width="2.8" stroke-linecap="round" stroke-linejoin="round"/>
<path d="M728.0,311.0 C728.3,314.8 731.5,328.2 730.0,334.0 C728.5,339.8 724.0,342.4 718.7,345.5 C713.4,348.6 705.3,351.6 698.0,352.4 C690.7,353.1 678.8,350.4 675.0,350.0" fill="none" stroke="#231f20" stroke-width="2" stroke-linecap="round" stroke-linejoin="round"/>
<path d="M691.0,348.0 C691.8,345.7 701.0,344.8 702.0,347.0 C703.0,349.2 698.8,360.8 697.0,361.0 C695.2,361.2 690.2,350.3 691.0,348.0Z" fill="#231f20"/>
<path d="M227.0,242.0 C229.2,240.3 235.8,235.3 240.0,232.0 C244.2,228.7 249.0,225.0 252.0,222.0 C255.0,219.0 257.0,215.3 258.0,214.0" fill="none" stroke="#d6d7d9" stroke-width="5" stroke-linecap="round" stroke-linejoin="round"/>
<path d="M278.0,213.0 C279.2,210.8 281.3,204.2 285.0,200.0 C288.7,195.8 294.2,191.2 300.0,188.0 C305.8,184.8 311.7,183.2 320.0,181.0 C328.3,178.8 341.7,176.5 350.0,175.0 C358.3,173.5 366.7,172.5 370.0,172.0" fill="none" stroke="#d6d7d9" stroke-width="6" stroke-linecap="round" stroke-linejoin="round"/>
<path d="M320.0,213.0 C324.2,212.2 335.8,208.5 345.0,208.0 C354.2,207.5 366.2,211.3 375.0,210.0 C383.8,208.7 394.2,201.7 398.0,200.0" fill="none" stroke="#d6d7d9" stroke-width="6" stroke-linecap="round" stroke-linejoin="round"/>
<path d="M418.0,165.0 C419.2,167.5 423.0,175.0 425.0,180.0 C427.0,185.0 428.3,195.3 430.0,195.0 C431.7,194.7 433.3,183.3 435.0,178.0 C436.7,172.7 439.2,165.5 440.0,163.0" fill="none" stroke="#d6d7d9" stroke-width="3.5" stroke-linecap="round" stroke-linejoin="round"/>
<path d="M478.0,175.0 C479.2,173.3 481.7,167.0 485.0,165.0 C488.3,163.0 493.8,162.5 498.0,163.0 C502.2,163.5 508.0,167.2 510.0,168.0" fill="none" stroke="#d6d7d9" stroke-width="5" stroke-linecap="round" stroke-linejoin="round"/>
<path d="M480.0,180.0 C480.3,182.5 480.3,191.2 482.0,195.0 C483.7,198.8 488.7,201.7 490.0,203.0" fill="none" stroke="#d6d7d9" stroke-width="5" stroke-linecap="round" stroke-linejoin="round"/>
<path d="M564.0,172.0 C565.8,173.0 572.0,175.0 575.0,178.0 C578.0,181.0 580.8,188.0 582.0,190.0" fill="none" stroke="#d6d7d9" stroke-width="5" stroke-linecap="round" stroke-linejoin="round"/>
<path d="M598.0,188.0 C600.0,186.3 605.7,180.3 610.0,178.0 C614.3,175.7 621.7,174.7 624.0,174.0" fill="none" stroke="#d6d7d9" stroke-width="4" stroke-linecap="round" stroke-linejoin="round"/>
<path d="M545.0,238.0 C544.3,240.3 541.0,247.5 541.0,252.0 C541.0,256.5 542.5,261.7 545.0,265.0 C547.5,268.3 554.2,270.8 556.0,272.0" fill="none" stroke="#d6d7d9" stroke-width="4" stroke-linecap="round" stroke-linejoin="round"/>
<path d="M444.0,258.0 C445.8,259.0 451.3,263.3 455.0,264.0 C458.7,264.7 464.2,262.3 466.0,262.0" fill="none" stroke="#d6d7d9" stroke-width="4" stroke-linecap="round" stroke-linejoin="round"/>
<path d="M530.0,285.0 C532.5,284.2 540.3,279.8 545.0,280.0 C549.7,280.2 555.8,285.0 558.0,286.0" fill="none" stroke="#d6d7d9" stroke-width="4" stroke-linecap="round" stroke-linejoin="round"/>
<path d="M572.0,290.0 C574.2,289.0 581.2,285.0 585.0,284.0 C588.8,283.0 593.3,284.0 595.0,284.0" fill="none" stroke="#d6d7d9" stroke-width="4" stroke-linecap="round" stroke-linejoin="round"/>
<path d="M592.0,326.0 C594.2,325.0 601.3,321.3 605.0,320.0 C608.7,318.7 612.5,318.3 614.0,318.0" fill="none" stroke="#d6d7d9" stroke-width="4" stroke-linecap="round" stroke-linejoin="round"/>
<path d="M168.0,322.0 C170.0,322.2 175.5,323.0 180.0,323.0 C184.5,323.0 191.3,323.5 195.0,322.0 C198.7,320.5 200.8,315.3 202.0,314.0" fill="none" stroke="#d6d7d9" stroke-width="2.5" stroke-linecap="round" stroke-linejoin="round"/>
<path d="M590.0,295.0 L602.0,285.0" fill="none" stroke="#d6d7d9" stroke-width="3" stroke-linecap="round" stroke-linejoin="round"/>
<path d="M650.0,204.0 C651.7,202.7 655.8,198.0 660.0,196.0 C664.2,194.0 672.5,192.7 675.0,192.0" fill="none" stroke="#d6d7d9" stroke-width="4" stroke-linecap="round" stroke-linejoin="round"/>
<path d="M392.0,200.0 C392.7,198.3 394.7,192.3 396.0,190.0 C397.3,187.7 399.3,186.7 400.0,186.0" fill="none" stroke="#d6d7d9" stroke-width="4" stroke-linecap="round" stroke-linejoin="round"/>
<path d="M505.0,165.0 C503.2,165.5 497.2,165.8 494.0,168.0 C490.8,170.2 487.3,174.0 486.0,178.0 C484.7,182.0 484.7,188.0 486.0,192.0 C487.3,196.0 490.8,200.0 494.0,202.0 C497.2,204.0 503.2,203.7 505.0,204.0" fill="none" stroke="#d6d7d9" stroke-width="7" stroke-linecap="round" stroke-linejoin="round"/>
<path d="M565.0,175.0 C566.2,175.8 569.5,177.5 572.0,180.0 C574.5,182.5 578.7,188.3 580.0,190.0" fill="none" stroke="#d6d7d9" stroke-width="5" stroke-linecap="round" stroke-linejoin="round"/>
<path d="M600.0,186.0 C602.0,184.7 608.0,179.7 612.0,178.0 C616.0,176.3 622.0,176.3 624.0,176.0" fill="none" stroke="#d6d7d9" stroke-width="5" stroke-linecap="round" stroke-linejoin="round"/>
<path d="M643.0,200.0 C644.5,201.7 649.7,207.0 652.0,210.0 C654.3,213.0 656.2,216.7 657.0,218.0" fill="none" stroke="#d6d7d9" stroke-width="5" stroke-linecap="round" stroke-linejoin="round"/>
<path d="M571.0,292.0 C572.5,291.0 576.8,287.3 580.0,286.0 C583.2,284.7 588.3,284.3 590.0,284.0" fill="none" stroke="#d6d7d9" stroke-width="4" stroke-linecap="round" stroke-linejoin="round"/>
<path d="M590.0,335.0 C591.7,333.7 596.5,329.2 600.0,327.0 C603.5,324.8 609.2,322.8 611.0,322.0" fill="none" stroke="#d6d7d9" stroke-width="4" stroke-linecap="round" stroke-linejoin="round"/>
<path d="M460.0,300.0 C462.5,299.3 470.0,296.0 475.0,296.0 C480.0,296.0 487.5,299.3 490.0,300.0" fill="none" stroke="#d6d7d9" stroke-width="3" stroke-linecap="round" stroke-linejoin="round"/>
</g>
<path d="M562.6,439.4 C563.5,434.6 563.5,427.1 566.4,422.3 C569.2,417.6 574.6,414.1 579.7,410.9 C584.8,407.7 590.5,405.2 596.8,403.3 C603.1,401.4 610.7,399.5 617.7,399.5 C624.7,399.5 631.3,401.7 638.6,403.3 C645.9,404.9 656.0,406.8 661.4,409.0 C666.8,411.2 669.0,413.8 670.9,416.6 C672.8,419.5 669.9,424.2 672.8,426.1 C675.6,428.0 682.3,426.7 688.0,428.0 C693.7,429.3 701.3,430.8 707.0,433.7 C712.7,436.6 718.1,440.4 722.2,445.1 C726.3,449.9 729.5,456.2 731.7,462.2 C733.9,468.2 735.2,474.9 735.5,481.2 C735.8,487.5 735.5,494.5 733.6,500.2 C731.7,505.9 727.9,511.0 724.1,515.4 C720.3,519.8 716.2,523.6 710.8,526.8 C705.4,530.0 697.5,532.2 691.8,534.4 C686.1,536.6 681.0,537.9 676.6,540.1 C672.2,542.3 669.0,544.9 665.2,547.7 C661.4,550.6 658.9,554.7 653.8,557.2 C648.7,559.7 641.8,562.0 634.8,562.9 C627.8,563.8 619.0,563.8 612.0,562.9 C605.0,562.0 598.4,559.7 593.0,557.2 C587.6,554.7 583.2,551.8 579.7,547.7 C576.2,543.6 573.7,538.2 572.1,532.5 C570.5,526.8 570.2,519.5 570.2,513.5 C570.2,507.5 570.5,501.8 572.1,496.4 C573.7,491.0 580.0,485.0 579.7,481.2 C579.4,477.4 573.1,476.8 570.2,473.6 C567.4,470.4 564.2,466.0 562.6,462.2 C561.0,458.4 560.7,454.6 560.7,450.8 C560.7,447.0 561.7,444.1 562.6,439.4Z" fill="#3cbeee" stroke="#231f20" stroke-width="5" stroke-linejoin="round"/>
<path d="M572.0,500.0 C575.4,501.2 582.0,514.2 590.0,520.0 C598.0,525.8 608.3,534.2 620.0,535.0 C631.7,535.8 648.3,530.0 660.0,525.0 C671.7,520.0 680.8,510.8 690.0,505.0 C699.2,499.2 707.7,493.8 715.0,490.0 C722.3,486.2 730.7,480.6 734.0,482.0 C737.3,483.4 736.4,492.5 735.0,498.4 C733.6,504.3 730.0,512.0 725.6,517.6 C721.2,523.2 715.2,528.4 708.8,532.0 C702.4,535.6 693.4,536.6 687.0,539.0 C680.6,541.4 675.6,543.2 670.4,546.4 C665.2,549.6 661.2,555.4 656.0,558.4 C650.8,561.4 645.4,563.4 639.0,564.4 C632.6,565.4 624.4,565.0 617.6,564.4 C610.8,563.8 604.4,563.0 598.4,560.8 C592.4,558.6 586.0,555.0 581.6,551.0 C577.2,547.0 574.0,543.2 572.0,536.8 C570.0,530.4 569.6,518.9 569.6,512.8 C569.6,506.7 568.6,498.8 572.0,500.0Z" fill="#0aa6e6"/>
<path d="M576.0,515.0 C576.7,518.3 576.8,529.2 580.0,535.0 C583.2,540.8 589.2,546.3 595.0,550.0 C600.8,553.7 611.7,555.8 615.0,557.0" fill="none" stroke="#3cbeee" stroke-width="4" stroke-linecap="round" stroke-linejoin="round"/>
<path d="M562.6,439.4 C563.5,434.6 563.5,427.1 566.4,422.3 C569.2,417.6 574.6,414.1 579.7,410.9 C584.8,407.7 590.5,405.2 596.8,403.3 C603.1,401.4 610.7,399.5 617.7,399.5 C624.7,399.5 631.3,401.7 638.6,403.3 C645.9,404.9 656.0,406.8 661.4,409.0 C666.8,411.2 669.0,413.8 670.9,416.6 C672.8,419.5 669.9,424.2 672.8,426.1 C675.6,428.0 682.3,426.7 688.0,428.0 C693.7,429.3 701.3,430.8 707.0,433.7 C712.7,436.6 718.1,440.4 722.2,445.1 C726.3,449.9 729.5,456.2 731.7,462.2 C733.9,468.2 735.2,474.9 735.5,481.2 C735.8,487.5 735.5,494.5 733.6,500.2 C731.7,505.9 727.9,511.0 724.1,515.4 C720.3,519.8 716.2,523.6 710.8,526.8 C705.4,530.0 697.5,532.2 691.8,534.4 C686.1,536.6 681.0,537.9 676.6,540.1 C672.2,542.3 669.0,544.9 665.2,547.7 C661.4,550.6 658.9,554.7 653.8,557.2 C648.7,559.7 641.8,562.0 634.8,562.9 C627.8,563.8 619.0,563.8 612.0,562.9 C605.0,562.0 598.4,559.7 593.0,557.2 C587.6,554.7 583.2,551.8 579.7,547.7 C576.2,543.6 573.7,538.2 572.1,532.5 C570.5,526.8 570.2,519.5 570.2,513.5 C570.2,507.5 570.5,501.8 572.1,496.4 C573.7,491.0 580.0,485.0 579.7,481.2 C579.4,477.4 573.1,476.8 570.2,473.6 C567.4,470.4 564.2,466.0 562.6,462.2 C561.0,458.4 560.7,454.6 560.7,450.8 C560.7,447.0 561.7,444.1 562.6,439.4Z" fill="none" stroke="#231f20" stroke-width="4.5" stroke-linejoin="round"/>
<path d="M568.3,447.0 C568.9,441.6 567.7,432.8 570.2,428.0 C572.7,423.2 579.7,421.4 583.5,418.5 C587.3,415.6 588.9,412.5 593.0,410.9 C597.1,409.3 603.5,409.6 608.2,409.0 C613.0,408.4 616.8,406.8 621.5,407.1 C626.2,407.4 632.0,409.6 636.7,410.9 C641.5,412.2 645.9,413.4 650.0,414.7 C654.1,416.0 658.5,416.3 661.4,418.5 C664.2,420.7 667.1,424.5 667.1,428.0 C667.1,431.5 660.5,439.4 661.4,439.4 C662.3,439.4 668.4,429.3 672.8,428.0 C677.2,426.7 682.6,429.9 688.0,431.8 C693.4,433.7 700.7,436.2 705.1,439.4 C709.5,442.6 712.7,446.4 714.6,450.8 C716.5,455.2 716.5,460.9 716.5,466.0 C716.5,471.1 715.6,476.1 714.6,481.2 C713.6,486.3 712.7,492.0 710.8,496.4 C708.9,500.8 707.0,505.3 703.2,507.8 C699.4,510.3 692.4,510.3 688.0,511.6 C683.6,512.9 678.2,512.9 676.6,515.4 C675.0,517.9 679.8,523.0 678.5,526.8 C677.2,530.6 673.8,535.4 669.0,538.2 C664.2,541.1 656.3,543.0 650.0,543.9 C643.7,544.8 637.3,544.8 631.0,543.9 C624.7,543.0 618.3,541.1 612.0,538.2 C605.7,535.4 598.1,530.9 593.0,526.8 C587.9,522.7 583.5,517.9 581.6,513.5 C579.7,509.1 579.7,504.0 581.6,500.2 C583.5,496.4 592.0,493.2 593.0,490.7 C594.0,488.2 590.5,487.9 587.3,485.0 C584.1,482.1 577.5,477.7 574.0,473.6 C570.5,469.5 567.4,464.7 566.4,460.3 C565.4,455.9 567.7,452.4 568.3,447.0Z" fill="#8e9093"/>
<g transform="translate(640,478) scale(0.975) translate(-640,-478)"><path d="M574.0,447.0 C573.4,441.3 573.5,435.9 576.0,431.8 C578.5,427.7 584.8,425.2 589.2,422.3 C593.6,419.4 597.4,416.3 602.5,414.7 C607.6,413.1 613.9,412.5 619.6,412.8 C625.3,413.1 631.0,415.0 636.7,416.6 C642.4,418.2 650.1,420.1 653.8,422.3 C657.4,424.5 658.6,426.8 658.6,430.0 C658.6,433.2 652.7,440.7 653.8,441.3 C654.9,441.9 660.1,434.6 665.2,433.7 C670.3,432.8 678.2,434.0 684.2,435.6 C690.2,437.2 697.2,440.0 701.3,443.2 C705.4,446.4 707.3,450.2 708.9,454.6 C710.5,459.0 711.1,464.1 710.8,469.8 C710.5,475.5 708.9,483.4 707.0,488.8 C705.1,494.2 703.2,499.2 699.4,502.1 C695.6,505.0 689.0,504.3 684.2,505.9 C679.5,507.5 672.8,508.4 670.9,511.6 C669.0,514.8 674.1,521.1 672.8,524.9 C671.5,528.7 667.7,532.2 663.3,534.4 C658.9,536.6 652.2,537.6 646.2,538.2 C640.2,538.8 633.5,539.5 627.2,538.2 C620.9,536.9 613.9,533.5 608.2,530.6 C602.5,527.8 596.5,524.6 593.0,521.1 C589.5,517.6 586.7,513.8 587.3,509.7 C587.9,505.6 592.7,500.5 596.8,496.4 C600.9,492.3 612.6,488.2 612.0,485.0 C611.4,481.8 598.4,480.6 593.0,477.4 C587.6,474.2 582.9,471.1 579.7,466.0 C576.5,460.9 574.6,452.7 574.0,447.0Z" fill="#ffffff"/></g>
<path d="M594.3,427.6 L592.7,431.8 L596.3,434.4 L594.7,438.6 L598.3,441.2 L596.7,445.5 L600.6,448.0 L599.2,452.4 L603.2,454.8 L601.8,459.2 L604.4,462.2" fill="none" stroke="#8e9093" stroke-width="6.5" stroke-linecap="round" stroke-linejoin="round"/>
<path d="M613.4,414.5 L611.1,418.7 L614.4,422.2 L612.1,426.4 L615.4,429.7 L613.6,434.5 L617.2,438.2 L615.4,443.0 L617.7,447.0" fill="none" stroke="#8e9093" stroke-width="6.5" stroke-linecap="round" stroke-linejoin="round"/>
<path d="M628.6,418.3 L626.4,422.5 L629.8,426.0 L627.6,430.2 L631.1,434.2 L628.9,439.0 L631.0,443.2" fill="none" stroke="#8e9093" stroke-width="6.5" stroke-linecap="round" stroke-linejoin="round"/>
<path d="M645.7,422.5 L642.4,425.9 L644.6,430.1 L641.3,433.4 L643.5,437.6 L640.2,441.0 L642.4,445.3 L638.9,448.2 L640.9,452.3 L637.5,455.2 L639.5,459.3 L636.0,462.2 L636.7,466.0" fill="none" stroke="#8e9093" stroke-width="6.5" stroke-linecap="round" stroke-linejoin="round"/>
<path d="M578.3,441.9 L581.4,446.1 L586.4,445.1 L589.4,449.3 L594.1,448.3 L596.5,452.4 L600.6,452.7" fill="none" stroke="#8e9093" stroke-width="6.5" stroke-linecap="round" stroke-linejoin="round"/>
<path d="M659.6,472.2 L663.0,475.3 L666.9,472.9 L670.3,476.0 L674.2,473.6 L677.6,476.7 L681.5,474.3 L684.8,477.4 L688.9,475.2 L692.1,478.5 L696.2,476.3 L699.5,479.6 L703.5,477.4 L707.0,479.3" fill="none" stroke="#8e9093" stroke-width="6.5" stroke-linecap="round" stroke-linejoin="round"/>
<path d="M670.4,446.7 L668.6,452.3 L672.4,456.7 L670.5,461.8 L672.8,466.0" fill="none" stroke="#8e9093" stroke-width="6.5" stroke-linecap="round" stroke-linejoin="round"/>
<path d="M689.4,441.4 L686.3,444.7 L688.7,448.6 L685.6,451.9 L687.9,457.2 L686.1,462.2" fill="none" stroke="#8e9093" stroke-width="6.5" stroke-linecap="round" stroke-linejoin="round"/>
<path d="M651.1,484.2 L651.2,488.9 L655.7,490.2 L655.7,495.0 L660.2,496.3 L661.2,501.6 L665.4,499.4 L668.8,502.7 L673.0,500.4 L676.4,503.8 L680.6,501.5 L684.0,504.8 L688.0,504.0" fill="none" stroke="#8e9093" stroke-width="6.5" stroke-linecap="round" stroke-linejoin="round"/>
<path d="M603.8,503.4 L602.7,507.9 L606.8,510.1 L605.8,514.7 L610.7,517.8 L612.0,523.0" fill="none" stroke="#8e9093" stroke-width="6.5" stroke-linecap="round" stroke-linejoin="round"/>
<path d="M619.0,496.0 L617.4,500.4 L621.2,503.3 L619.6,507.7 L623.3,510.6 L622.0,515.4 L625.9,518.5 L624.6,523.3 L627.2,526.8" fill="none" stroke="#8e9093" stroke-width="6.5" stroke-linecap="round" stroke-linejoin="round"/>
<path d="M636.1,507.3 L634.8,511.6 L638.7,513.9 L637.4,518.2 L641.3,520.4 L640.3,524.9 L644.4,527.1 L643.4,531.6 L646.2,534.4" fill="none" stroke="#8e9093" stroke-width="6.5" stroke-linecap="round" stroke-linejoin="round"/>
<path d="M657.0,511.2 L655.5,515.7 L659.3,518.4 L658.4,523.5 L661.4,526.8" fill="none" stroke="#8e9093" stroke-width="6.5" stroke-linecap="round" stroke-linejoin="round"/>
<path d="M700.7,453.2 L695.9,452.8 L694.1,457.2 L690.0,458.0" fill="none" stroke="#8e9093" stroke-width="6.5" stroke-linecap="round" stroke-linejoin="round"/>
<path d="M586.1,431.1 L586.3,435.6 L590.7,436.4 L592.0,440.0" fill="none" stroke="#8e9093" stroke-width="6.5" stroke-linecap="round" stroke-linejoin="round"/>
<path d="M599.1,519.1 L599.3,523.6 L603.7,524.4 L605.0,528.0" fill="none" stroke="#8e9093" stroke-width="6.5" stroke-linecap="round" stroke-linejoin="round"/>
<path d="M585.0,436.0 L590.4,440.5" fill="none" stroke="#8e9093" stroke-width="4" stroke-linecap="round" stroke-linejoin="round"/>
<path d="M598.0,425.0 L601.5,431.1" fill="none" stroke="#8e9093" stroke-width="4" stroke-linecap="round" stroke-linejoin="round"/>
<path d="M612.0,420.0 L613.2,426.9" fill="none" stroke="#8e9093" stroke-width="4" stroke-linecap="round" stroke-linejoin="round"/>
<path d="M628.0,421.0 L627.4,428.0" fill="none" stroke="#8e9093" stroke-width="4" stroke-linecap="round" stroke-linejoin="round"/>
<path d="M646.0,425.0 L643.6,431.6" fill="none" stroke="#8e9093" stroke-width="4" stroke-linecap="round" stroke-linejoin="round"/>
<path d="M676.0,440.0 L673.6,446.6" fill="none" stroke="#8e9093" stroke-width="4" stroke-linecap="round" stroke-linejoin="round"/>
<path d="M694.0,446.0 L688.6,450.5" fill="none" stroke="#8e9093" stroke-width="4" stroke-linecap="round" stroke-linejoin="round"/>
<path d="M704.0,462.0 L697.1,463.2" fill="none" stroke="#8e9093" stroke-width="4" stroke-linecap="round" stroke-linejoin="round"/>
<path d="M703.0,488.0 L696.4,485.6" fill="none" stroke="#8e9093" stroke-width="4" stroke-linecap="round" stroke-linejoin="round"/>
<path d="M695.0,500.0 L690.5,494.6" fill="none" stroke="#8e9093" stroke-width="4" stroke-linecap="round" stroke-linejoin="round"/>
<path d="M660.0,518.0 L657.6,511.4" fill="none" stroke="#8e9093" stroke-width="4" stroke-linecap="round" stroke-linejoin="round"/>
<path d="M650.0,532.0 L648.8,525.1" fill="none" stroke="#8e9093" stroke-width="4" stroke-linecap="round" stroke-linejoin="round"/>
<path d="M630.0,534.0 L631.2,527.1" fill="none" stroke="#8e9093" stroke-width="4" stroke-linecap="round" stroke-linejoin="round"/>
<path d="M612.0,527.0 L615.5,520.9" fill="none" stroke="#8e9093" stroke-width="4" stroke-linecap="round" stroke-linejoin="round"/>
<path d="M596.0,515.0 L601.4,510.5" fill="none" stroke="#8e9093" stroke-width="4" stroke-linecap="round" stroke-linejoin="round"/>
<path d="M590.0,500.0 L597.0,500.0" fill="none" stroke="#8e9093" stroke-width="4" stroke-linecap="round" stroke-linejoin="round"/>
<path d="M582.0,455.0 L588.9,456.2" fill="none" stroke="#8e9093" stroke-width="4" stroke-linecap="round" stroke-linejoin="round"/>
<path d="M548.0,466.0 C550.8,466.7 559.3,468.7 565.0,470.0 C570.7,471.3 579.2,473.3 582.0,474.0" fill="none" stroke="#ffffff" stroke-width="10" stroke-linecap="round" stroke-linejoin="round"/>
<path d="M572.8,562.0 C574.8,558.0 586.1,557.3 589.6,562.0 C593.1,566.7 592.8,580.3 594.0,590.0 C595.2,599.7 597.1,612.7 596.8,620.0 C596.5,627.3 593.6,632.0 592.0,634.0 C590.4,636.0 588.2,634.3 587.0,632.0 C585.8,629.7 586.0,625.3 584.8,620.0 C583.6,614.7 581.2,605.7 580.0,600.0 C578.8,594.3 578.8,592.3 577.6,586.0 C576.4,579.7 570.8,566.0 572.8,562.0Z" fill="#6d6e71"/>
<path d="M581.0,566.0 C581.7,570.8 583.8,585.2 585.0,595.0 C586.2,604.8 587.5,620.0 588.0,625.0" fill="none" stroke="#c9cacc" stroke-width="3" stroke-linecap="round" stroke-linejoin="round"/>
<path d="M586.0,566.0 L591.0,600.0" fill="none" stroke="#ffffff" stroke-width="1.5" stroke-linecap="round" stroke-linejoin="round"/>
<path d="M428.0,492.0 C428.3,485.0 428.0,476.2 430.0,470.0 C432.0,463.8 436.3,458.7 440.0,455.0 C443.7,451.3 447.0,449.5 452.0,448.0 C457.0,446.5 465.3,442.3 470.0,446.0 C474.7,449.7 476.7,457.7 480.0,470.0 C483.3,482.3 486.7,507.5 490.0,520.0 C493.3,532.5 496.7,539.0 500.0,545.0 C503.3,551.0 505.3,551.2 510.0,556.0 C514.7,560.8 522.3,567.7 528.0,574.0 C533.7,580.3 539.8,587.7 544.0,594.0 C548.2,600.3 550.8,606.0 553.0,612.0 C555.2,618.0 557.3,626.7 557.0,630.0 C556.7,633.3 553.8,635.0 551.0,632.0 C548.2,629.0 544.5,618.7 540.0,612.0 C535.5,605.3 529.8,598.7 524.0,592.0 C518.2,585.3 511.0,577.7 505.0,572.0 C499.0,566.3 494.2,560.3 488.0,558.0 C481.8,555.7 475.0,559.5 468.0,558.0 C461.0,556.5 451.7,553.3 446.0,549.0 C440.3,544.7 437.0,538.2 434.0,532.0 C431.0,525.8 429.0,518.7 428.0,512.0 C427.0,505.3 427.7,499.0 428.0,492.0Z" fill="#6d6e71"/>
<path d="M455.0,416.0 C456.5,412.3 464.2,407.7 470.0,406.0 C475.8,404.3 483.3,405.2 490.0,406.0 C496.7,406.8 503.0,408.7 510.0,411.0 C517.0,413.3 526.3,413.7 532.0,420.0 C537.7,426.3 540.8,440.5 544.0,449.0 C547.2,457.5 549.3,463.7 551.0,471.0 C552.7,478.3 553.2,485.7 554.0,493.0 C554.8,500.3 555.2,507.7 556.0,515.0 C556.8,522.3 557.5,530.8 559.0,537.0 C560.5,543.2 563.2,547.0 565.0,552.0 C566.8,557.0 568.8,562.2 570.0,567.0 C571.2,571.8 571.3,575.5 572.0,581.0 C572.7,586.5 574.0,593.2 574.0,600.0 C574.0,606.8 573.5,617.3 572.0,622.0 C570.5,626.7 567.7,627.3 565.0,628.0 C562.3,628.7 559.2,630.0 556.0,626.0 C552.8,622.0 550.2,611.5 546.0,604.0 C541.8,596.5 536.3,587.8 531.0,581.0 C525.7,574.2 519.7,568.0 514.0,563.0 C508.3,558.0 502.7,552.5 497.0,551.0 C491.3,549.5 486.0,554.3 480.0,554.0 C474.0,553.7 467.0,552.2 461.0,549.0 C455.0,545.8 448.4,540.7 444.0,535.0 C439.6,529.3 436.5,521.8 434.5,515.0 C432.5,508.2 431.8,500.3 432.0,494.0 C432.2,487.7 433.7,482.0 436.0,477.0 C438.3,472.0 442.3,467.8 446.0,464.0 C449.7,460.2 454.7,457.8 458.0,454.0 C461.3,450.2 465.5,445.3 466.0,441.0 C466.5,436.7 462.8,432.2 461.0,428.0 C459.2,423.8 453.5,419.7 455.0,416.0Z" fill="#ffffff"/>
<path d="M469.6,418.0 C471.1,416.2 473.4,416.5 479.0,417.0 C484.6,417.5 495.8,418.5 503.0,421.0 C510.2,423.5 516.3,424.8 522.0,432.0 C527.7,439.2 533.3,453.8 537.0,464.0 C540.7,474.2 542.1,483.2 544.0,493.0 C545.9,502.8 546.5,513.2 548.5,523.0 C550.5,532.8 553.8,542.3 556.0,552.0 C558.2,561.7 560.5,571.7 562.0,581.0 C563.5,590.3 566.0,603.2 565.0,608.0 C564.0,612.8 559.5,614.0 556.0,610.0 C552.5,606.0 548.4,592.0 544.0,584.0 C539.6,576.0 534.8,568.8 529.6,562.0 C524.4,555.2 516.8,549.3 512.8,543.0 C508.8,536.7 507.2,533.2 505.6,524.0 C504.0,514.8 504.6,498.8 503.0,488.0 C501.4,477.2 500.0,467.0 496.0,459.0 C492.0,451.0 483.3,445.2 479.0,440.0 C474.7,434.8 471.6,431.7 470.0,428.0 C468.4,424.3 468.1,419.8 469.6,418.0Z" fill="#d3ebf9"/>
<path d="M436.0,459.0 C438.3,457.3 446.7,455.5 452.0,455.0 C457.3,454.5 463.3,455.3 468.0,456.0 C472.7,456.7 477.7,457.8 480.0,459.0 C482.3,460.2 483.7,461.8 482.0,463.0 C480.3,464.2 475.0,465.5 470.0,466.0 C465.0,466.5 457.3,466.2 452.0,466.0 C446.7,465.8 440.7,466.2 438.0,465.0 C435.3,463.8 433.7,460.7 436.0,459.0Z" fill="#231f20"/>
<path d="M473.0,474.0 C478.3,474.0 485.3,475.0 490.0,478.0 C494.7,481.0 498.8,486.7 501.0,492.0 C503.2,497.3 503.7,504.0 503.0,510.0 C502.3,516.0 500.3,523.7 497.0,528.0 C493.7,532.3 488.2,534.8 483.0,536.0 C477.8,537.2 471.3,536.7 466.0,535.0 C460.7,533.3 454.7,530.5 451.0,526.0 C447.3,521.5 444.7,514.0 444.0,508.0 C443.3,502.0 444.7,495.0 447.0,490.0 C449.3,485.0 453.7,480.7 458.0,478.0 C462.3,475.3 467.7,474.0 473.0,474.0Z" fill="#d3ebf9"/>
<path d="M536.0,311.0 C538.3,312.2 545.7,315.2 550.0,318.0 C554.3,320.8 558.8,324.3 562.0,328.0 C565.2,331.7 567.4,335.8 569.0,340.0 C570.6,344.2 571.5,348.7 571.5,353.0 C571.5,357.3 570.8,362.3 569.0,366.0 C567.2,369.7 564.5,373.0 561.0,375.0 C557.5,377.0 550.2,377.5 548.0,378.0" fill="none" stroke="#231f20" stroke-width="6" stroke-linecap="round" stroke-linejoin="round"/>
<path d="M341.0,350.0 C341.3,344.3 344.3,342.0 347.0,338.0 C349.7,334.0 351.3,329.5 357.0,326.0 C362.7,322.5 373.0,319.2 381.0,317.0 C389.0,314.8 396.8,313.7 405.0,313.0 C413.2,312.3 420.8,312.8 430.0,313.0 C439.2,313.2 450.0,313.3 460.0,314.0 C470.0,314.7 480.0,314.7 490.0,317.0 C500.0,319.3 513.8,324.2 520.0,328.0 C526.2,331.8 524.8,333.8 527.0,340.0 C529.2,346.2 530.0,358.3 533.0,365.0 C536.0,371.7 541.8,375.0 545.0,380.0 C548.2,385.0 551.5,390.0 552.0,395.0 C552.5,400.0 551.7,406.8 548.0,410.0 C544.3,413.2 538.0,413.8 530.0,414.0 C522.0,414.2 510.0,410.8 500.0,411.0 C490.0,411.2 478.0,413.0 470.0,415.0 C462.0,417.0 458.7,419.8 452.0,423.0 C445.3,426.2 437.0,430.5 430.0,434.0 C423.0,437.5 416.3,441.3 410.0,444.0 C403.7,446.7 397.8,448.2 392.0,450.0 C386.2,451.8 380.3,453.0 375.0,455.0 C369.7,457.0 365.0,460.7 360.0,462.0 C355.0,463.3 349.2,463.8 345.0,463.0 C340.8,462.2 335.8,459.3 335.0,457.0 C334.2,454.7 336.7,451.0 340.0,449.0 C343.3,447.0 351.3,447.8 355.0,445.0 C358.7,442.2 360.5,437.8 362.0,432.0 C363.5,426.2 364.0,416.7 364.0,410.0 C364.0,403.3 363.3,396.8 362.0,392.0 C360.7,387.2 358.8,384.3 356.0,381.0 C353.2,377.7 347.5,377.2 345.0,372.0 C342.5,366.8 340.7,355.7 341.0,350.0Z" fill="#0aa6e6"/>
<path d="M349.0,352.0 C349.0,347.0 349.8,343.7 352.0,340.0 C354.2,336.3 356.7,333.0 362.0,330.0 C367.3,327.0 376.0,324.0 384.0,322.0 C392.0,320.0 400.7,318.7 410.0,318.0 C419.3,317.3 430.0,317.7 440.0,318.0 C450.0,318.3 460.0,318.8 470.0,320.0 C480.0,321.2 492.5,322.8 500.0,325.0 C507.5,327.2 511.3,329.7 515.0,333.0 C518.7,336.3 520.2,339.7 522.0,345.0 C523.8,350.3 523.7,358.8 526.0,365.0 C528.3,371.2 533.3,376.5 536.0,382.0 C538.7,387.5 543.0,394.2 542.0,398.0 C541.0,401.8 537.0,404.2 530.0,405.0 C523.0,405.8 510.0,403.2 500.0,403.0 C490.0,402.8 478.7,402.5 470.0,404.0 C461.3,405.5 455.5,408.7 448.0,412.0 C440.5,415.3 432.2,420.3 425.0,424.0 C417.8,427.7 411.2,430.8 405.0,434.0 C398.8,437.2 393.5,440.5 388.0,443.0 C382.5,445.5 377.0,446.8 372.0,449.0 C367.0,451.2 362.5,454.5 358.0,456.0 C353.5,457.5 347.5,458.5 345.0,458.0 C342.5,457.5 340.8,454.3 343.0,453.0 C345.2,451.7 353.8,452.8 358.0,450.0 C362.2,447.2 366.0,442.7 368.0,436.0 C370.0,429.3 370.0,417.3 370.0,410.0 C370.0,402.7 369.3,397.0 368.0,392.0 C366.7,387.0 364.7,383.7 362.0,380.0 C359.3,376.3 354.2,374.7 352.0,370.0 C349.8,365.3 349.0,357.0 349.0,352.0Z" fill="#3cbeee"/>
<path d="M356.0,345.0 C355.7,339.3 358.7,337.2 362.0,334.0 C365.3,330.8 370.5,328.0 376.0,326.0 C381.5,324.0 394.3,320.7 395.0,322.0 C395.7,323.3 383.8,329.7 380.0,334.0 C376.2,338.3 372.3,343.3 372.0,348.0 C371.7,352.7 375.3,358.0 378.0,362.0 C380.7,366.0 388.0,369.3 388.0,372.0 C388.0,374.7 382.0,378.7 378.0,378.0 C374.0,377.3 367.7,373.5 364.0,368.0 C360.3,362.5 356.3,350.7 356.0,345.0Z" fill="#86d0f3"/>
<path d="M372.0,342.0 C372.2,338.3 380.7,339.7 385.0,340.0 C389.3,340.3 396.8,341.7 398.0,344.0 C399.2,346.3 394.3,351.0 392.0,354.0 C389.7,357.0 387.3,364.0 384.0,362.0 C380.7,360.0 371.8,345.7 372.0,342.0Z" fill="#86d0f3"/>
<path d="M420.0,392.0 C424.2,389.2 431.7,387.0 440.0,385.0 C448.3,383.0 460.0,381.2 470.0,380.0 C480.0,378.8 493.3,376.7 500.0,378.0 C506.7,379.3 510.8,384.7 510.0,388.0 C509.2,391.3 503.3,396.0 495.0,398.0 C486.7,400.0 470.8,399.0 460.0,400.0 C449.2,401.0 437.5,403.7 430.0,404.0 C422.5,404.3 416.7,404.0 415.0,402.0 C413.3,400.0 415.8,394.8 420.0,392.0Z" fill="#86d0f3" opacity="0.55"/>
<path d="M292.2,344.0 C293.0,339.6 295.6,334.6 299.4,329.6 C303.2,324.6 309.4,318.2 315.0,314.0 C320.6,309.8 326.0,307.4 333.0,304.4 C340.0,301.4 349.0,298.2 357.0,296.0 C365.0,293.8 372.2,292.7 381.0,291.2 C389.8,289.7 398.5,287.7 410.0,287.0 C421.5,286.3 438.3,285.7 450.0,287.0 C461.7,288.3 470.0,292.5 480.0,295.0 C490.0,297.5 501.7,299.5 510.0,302.0 C518.3,304.5 524.2,307.3 530.0,310.0 C535.8,312.7 540.3,315.0 545.0,318.0 C549.7,321.0 554.7,324.3 558.0,328.0 C561.3,331.7 563.5,336.0 565.0,340.0 C566.5,344.0 567.0,348.2 567.0,352.0 C567.0,355.8 566.5,359.8 565.0,363.0 C563.5,366.2 560.8,369.3 558.0,371.0 C555.2,372.7 551.3,373.3 548.0,373.0 C544.7,372.7 540.5,371.2 538.0,369.0 C535.5,366.8 534.2,363.2 533.0,360.0 C531.8,356.8 531.5,353.3 531.0,350.0 C530.5,346.7 530.7,342.8 530.0,340.0 C529.3,337.2 528.7,334.8 527.0,333.0 C525.3,331.2 523.7,330.8 520.0,329.0 C516.3,327.2 510.0,323.8 505.0,322.0 C500.0,320.2 497.5,319.2 490.0,318.0 C482.5,316.8 470.0,315.7 460.0,315.0 C450.0,314.3 439.2,314.2 430.0,314.0 C420.8,313.8 413.2,313.4 405.0,314.0 C396.8,314.6 389.0,315.6 381.0,317.6 C373.0,319.6 362.6,322.6 357.0,326.0 C351.4,329.4 350.0,334.0 347.4,338.0 C344.8,342.0 342.1,346.0 341.4,350.0 C340.7,354.0 341.2,358.3 343.0,362.0 C344.8,365.7 348.2,369.0 352.0,372.0 C355.8,375.0 361.7,377.0 366.0,380.0 C370.3,383.0 374.7,386.7 378.0,390.0 C381.3,393.3 385.0,397.4 386.0,400.0 C387.0,402.6 385.5,404.7 384.0,405.5 C382.5,406.3 379.7,406.8 377.0,405.0 C374.3,403.2 372.2,399.0 368.0,395.0 C363.8,391.0 359.8,384.5 352.0,381.0 C344.2,377.5 329.2,376.7 321.0,374.0 C312.8,371.3 307.4,368.0 303.0,365.0 C298.6,362.0 296.4,359.5 294.6,356.0 C292.8,352.5 291.4,348.4 292.2,344.0Z" fill="#ffffff"/>
<path d="M301.8,350.0 C302.0,346.2 303.3,340.0 306.0,335.0 C308.7,330.0 313.0,324.3 318.0,320.0 C323.0,315.7 329.3,312.2 336.0,309.0 C342.7,305.8 350.3,303.2 358.0,301.0 C365.7,298.8 373.3,297.2 382.0,296.0 C390.7,294.8 398.7,294.2 410.0,294.0 C421.3,293.8 438.3,293.7 450.0,295.0 C461.7,296.3 470.7,299.8 480.0,302.0 C489.3,304.2 498.0,305.5 506.0,308.0 C514.0,310.5 521.5,313.8 528.0,317.0 C534.5,320.2 540.5,323.2 545.0,327.0 C549.5,330.8 552.8,335.8 555.0,340.0 C557.2,344.2 557.8,348.2 558.0,352.0 C558.2,355.8 557.3,360.5 556.0,363.0 C554.7,365.5 552.2,367.2 550.0,367.0 C547.8,366.8 544.8,364.8 543.0,362.0 C541.2,359.2 540.2,354.3 539.0,350.0 C537.8,345.7 538.2,340.2 536.0,336.0 C533.8,331.8 530.3,328.5 526.0,325.0 C521.7,321.5 516.0,317.5 510.0,315.0 C504.0,312.5 498.3,311.3 490.0,310.0 C481.7,308.7 470.0,307.7 460.0,307.0 C450.0,306.3 439.2,306.2 430.0,306.0 C420.8,305.8 413.3,305.5 405.0,306.0 C396.7,306.5 388.3,307.2 380.0,309.0 C371.7,310.8 361.3,313.8 355.0,317.0 C348.7,320.2 345.3,323.8 342.0,328.0 C338.7,332.2 336.3,337.5 335.0,342.0 C333.7,346.5 333.2,351.0 334.0,355.0 C334.8,359.0 337.7,363.2 340.0,366.0 C342.3,368.8 349.7,371.2 348.0,372.0 C346.3,372.8 335.5,372.0 330.0,371.0 C324.5,370.0 319.2,368.2 315.0,366.0 C310.8,363.8 307.2,360.7 305.0,358.0 C302.8,355.3 301.6,353.8 301.8,350.0Z" fill="#d3ebf9"/>
<path d="M403.0,362.0 C403.3,360.0 408.3,355.0 412.0,352.0 C415.7,349.0 418.7,346.8 425.0,344.0 C431.3,341.2 440.8,337.5 450.0,335.0 C459.2,332.5 470.8,330.3 480.0,329.0 C489.2,327.7 498.3,327.0 505.0,327.0 C511.7,327.0 516.2,327.5 520.0,329.0 C523.8,330.5 526.2,332.5 528.0,336.0 C529.8,339.5 530.0,345.2 531.0,350.0 C532.0,354.8 532.5,360.7 534.0,365.0 C535.5,369.3 537.0,372.2 540.0,376.0 C543.0,379.8 547.8,383.7 552.0,388.0 C556.2,392.3 561.5,396.0 565.0,402.0 C568.5,408.0 573.0,419.3 573.0,424.0 C573.0,428.7 568.5,432.3 565.0,430.0 C561.5,427.7 556.2,415.3 552.0,410.0 C547.8,404.7 543.7,403.0 540.0,398.0 C536.3,393.0 532.2,386.0 530.0,380.0 C527.8,374.0 528.0,367.3 527.0,362.0 C526.0,356.7 525.8,351.5 524.0,348.0 C522.2,344.5 520.0,342.8 516.0,341.0 C512.0,339.2 506.0,337.5 500.0,337.0 C494.0,336.5 486.7,336.7 480.0,338.0 C473.3,339.3 466.7,342.8 460.0,345.0 C453.3,347.2 445.8,349.0 440.0,351.0 C434.2,353.0 430.0,354.8 425.0,357.0 C420.0,359.2 413.7,363.2 410.0,364.0 C406.3,364.8 402.7,364.0 403.0,362.0Z" fill="#231f20"/>
<path d="M522.0,329.0 C519.2,328.3 510.3,325.6 505.0,325.0 C499.7,324.4 495.8,325.0 490.0,325.5 C484.2,326.0 476.7,326.9 470.0,328.0 C463.3,329.1 456.7,330.3 450.0,332.0 C443.3,333.7 436.0,335.7 430.0,338.0 C424.0,340.3 418.7,343.0 414.0,346.0 C409.3,349.0 405.3,352.3 402.0,356.0 C398.7,359.7 396.0,364.0 394.0,368.0 C392.0,372.0 390.5,376.0 390.0,380.0 C389.5,384.0 390.0,388.5 391.0,392.0 C392.0,395.5 395.2,399.5 396.0,401.0" fill="none" stroke="#ffffff" stroke-width="8" stroke-linecap="round" stroke-linejoin="round"/>
<path d="M400.0,383.0 C401.3,381.5 404.7,376.5 408.0,374.0 C411.3,371.5 413.7,370.2 420.0,368.0 C426.3,365.8 437.7,362.8 446.0,361.0 C454.3,359.2 462.7,357.8 470.0,357.0 C477.3,356.2 484.2,355.8 490.0,356.0 C495.8,356.2 500.8,357.0 505.0,358.0 C509.2,359.0 513.3,361.3 515.0,362.0" fill="none" stroke="#a9def6" stroke-width="5" stroke-linecap="round" stroke-linejoin="round"/>
<path d="M400.0,386.0 L398.0,392.0" fill="none" stroke="#a9def6" stroke-width="6" stroke-linecap="round" stroke-linejoin="round"/>
<ellipse cx="444" cy="378" rx="12" ry="8" fill="#a9def6"/>
<ellipse cx="441" cy="376.5" rx="7.5" ry="5" fill="#ffffff"/>
<path d="M498.0,382.0 C499.7,379.3 507.0,379.0 512.0,378.0 C517.0,377.0 523.0,375.7 528.0,376.0 C533.0,376.3 538.3,378.3 542.0,380.0 C545.7,381.7 548.5,383.3 550.0,386.0 C551.5,388.7 552.2,393.2 551.0,396.0 C549.8,398.8 546.5,401.7 543.0,403.0 C539.5,404.3 533.8,404.5 530.0,404.0 C526.2,403.5 523.3,401.3 520.0,400.0 C516.7,398.7 513.0,397.0 510.0,396.0 C507.0,395.0 504.0,396.3 502.0,394.0 C500.0,391.7 496.3,384.7 498.0,382.0Z" fill="#ffffff"/>
<path d="M509.0,386.0 C510.7,384.3 516.5,384.7 520.0,385.0 C523.5,385.3 527.7,386.3 530.0,388.0 C532.3,389.7 534.3,392.8 534.0,395.0 C533.7,397.2 530.7,400.3 528.0,401.0 C525.3,401.7 521.0,400.0 518.0,399.0 C515.0,398.0 511.5,397.2 510.0,395.0 C508.5,392.8 507.3,387.7 509.0,386.0Z" fill="#231f20"/>
<path d="M498.0,398.0 C500.0,396.3 507.0,397.0 512.0,398.0 C517.0,399.0 523.0,402.0 528.0,404.0 C533.0,406.0 538.3,407.3 542.0,410.0 C545.7,412.7 547.7,416.3 550.0,420.0 C552.3,423.7 554.7,428.7 556.0,432.0 C557.3,435.3 559.3,438.7 558.0,440.0 C556.7,441.3 551.3,442.0 548.0,440.0 C544.7,438.0 542.0,431.7 538.0,428.0 C534.0,424.3 528.7,420.7 524.0,418.0 C519.3,415.3 514.0,413.7 510.0,412.0 C506.0,410.3 502.0,410.3 500.0,408.0 C498.0,405.7 496.0,399.7 498.0,398.0Z" fill="#c6e6f8"/>
<path d="M478.0,402.0 C480.3,402.8 487.3,404.8 492.0,407.0 C496.7,409.2 501.7,411.8 506.0,415.0 C510.3,418.2 514.3,421.8 518.0,426.0 C521.7,430.2 526.3,437.7 528.0,440.0" fill="none" stroke="#231f20" stroke-width="4" stroke-linecap="round" stroke-linejoin="round"/>
<path d="M392.0,447.0 C394.9,446.8 402.9,447.8 409.6,446.0 C416.3,444.2 425.6,439.3 432.0,436.4 C438.4,433.5 442.5,431.0 448.0,428.4 C453.5,425.8 459.7,422.9 465.0,421.0 C470.3,419.1 477.5,417.7 480.0,417.0" fill="none" stroke="#ffffff" stroke-width="7" stroke-linecap="round" stroke-linejoin="round"/>
<path d="M352.0,457.0 C352.8,456.0 354.9,455.3 357.0,450.8 C359.1,446.3 363.0,435.8 364.8,430.0 C366.6,424.2 367.5,418.3 368.0,416.0" fill="none" stroke="#ffffff" stroke-width="8.5" stroke-linecap="round" stroke-linejoin="round"/>
<path d="M356.8,454.0 C360.0,453.2 370.7,451.7 376.0,449.0 C381.3,446.3 386.4,440.9 388.8,438.0 C391.2,435.1 390.1,432.7 390.4,431.6" fill="none" stroke="#ffffff" stroke-width="8.5" stroke-linecap="round" stroke-linejoin="round"/>
<path d="M390.0,440.0 C390.1,442.8 391.1,452.0 390.4,457.0 C389.7,462.0 386.4,467.8 385.6,470.0" fill="none" stroke="#ffffff" stroke-width="8.5" stroke-linecap="round" stroke-linejoin="round"/>
<path d="M390.4,455.0 L409.6,446.0" fill="none" stroke="#ffffff" stroke-width="8.5" stroke-linecap="round" stroke-linejoin="round"/>
<path d="M330.0,452.0 C331.8,450.0 338.7,449.3 342.0,450.0 C345.3,450.7 349.0,453.3 350.0,456.0 C351.0,458.7 350.0,464.0 348.0,466.0 C346.0,468.0 340.8,468.7 338.0,468.0 C335.2,467.3 332.3,464.7 331.0,462.0 C329.7,459.3 328.2,454.0 330.0,452.0Z" fill="#6d6e71"/>
<path d="M450.0,429.0 C451.3,423.8 462.5,419.5 466.0,421.0 C469.5,422.5 470.8,432.8 471.0,438.0 C471.2,443.2 469.2,449.7 467.0,452.0 C464.8,454.3 460.8,455.8 458.0,452.0 C455.2,448.2 448.7,434.2 450.0,429.0Z" fill="#ffffff"/>
<path d="M441.6,450.0 C441.9,446.5 444.1,439.2 446.0,436.0 C447.9,432.8 450.5,430.0 452.8,431.0 C455.1,432.0 458.1,438.2 460.0,442.0 C461.9,445.8 465.3,451.3 464.0,454.0 C462.7,456.7 455.3,457.5 452.0,458.0 C448.7,458.5 445.7,458.3 444.0,457.0 C442.3,455.7 441.3,453.5 441.6,450.0Z" fill="#3cbeee" stroke="#231f20" stroke-width="3" stroke-linejoin="round"/>
<path d="M441.6,450.0 C441.9,446.5 444.1,439.2 446.0,436.0 C447.9,432.8 450.5,430.0 452.8,431.0 C455.1,432.0 458.1,438.2 460.0,442.0 C461.9,445.8 465.3,451.3 464.0,454.0 C462.7,456.7 455.3,457.5 452.0,458.0 C448.7,458.5 445.7,458.3 444.0,457.0 C442.3,455.7 441.3,453.5 441.6,450.0Z" fill="#3cbeee"/>
<path d="M456.0,446.0 C453.3,448.3 445.6,455.2 440.0,460.0 C434.4,464.8 425.3,472.3 422.4,474.8" fill="none" stroke="#bfe3f7" stroke-width="7" stroke-linecap="round" stroke-linejoin="round"/>
<path d="M452.0,444.0 L447.0,437.0" fill="none" stroke="#bfe3f7" stroke-width="2" stroke-linecap="round" stroke-linejoin="round"/>
<path d="M454.0,446.0 L457.0,438.0" fill="none" stroke="#bfe3f7" stroke-width="2" stroke-linecap="round" stroke-linejoin="round"/>
<path d="M455.0,448.0 L462.0,445.0" fill="none" stroke="#bfe3f7" stroke-width="2" stroke-linecap="round" stroke-linejoin="round"/>
<polyline points="160,342.5 243,342.5" fill="none" stroke="#ffffff" stroke-width="3.6"/>
<polyline points="579.6,200 579.6,235" fill="none" stroke="#ffffff" stroke-width="3.8"/>
<polyline points="590,194.5 690,194.5" fill="none" stroke="#ffffff" stroke-width="3.6"/>
<polyline points="116.5,433 116.5,342.5 243,342.5" fill="none" stroke="#231f20" stroke-width="1.3"/>
<circle cx="243" cy="342.5" r="2.8" fill="#231f20"/>
<polyline points="825,194.5 579.6,194.5 579.6,235" fill="none" stroke="#231f20" stroke-width="1.4"/>
<circle cx="579.6" cy="235" r="4.2" fill="#ffffff"/>
<circle cx="579.6" cy="235" r="2.9" fill="#231f20"/>
<polyline points="500.5,675.8 468.3,675.8 468.3,412.5" fill="none" stroke="#231f20" stroke-width="1.3"/>
<circle cx="468.3" cy="412.5" r="2.8" fill="#231f20"/>
<text x="108.5" y="107.6" font-size="16.5" font-weight="normal" fill="#231f20" text-anchor="start" textLength="495.5" lengthAdjust="spacingAndGlyphs">Глава 3.&#160; Эпидемиология и клиническая структура деменции</text><text x="879.5" y="108" font-size="22.5" font-weight="bold" fill="#00aeef" text-anchor="start" textLength="27" lengthAdjust="spacingAndGlyphs">43</text><text x="853" y="199" font-size="14" font-weight="bold" fill="#00aeef" text-anchor="start" textLength="55.5" lengthAdjust="spacingAndGlyphs">БЛОК II</text><text x="850.5" y="230.7" font-size="14.2" font-weight="normal" fill="#231f20" text-anchor="start" textLength="58.5" lengthAdjust="spacingAndGlyphs">Приема,</text><text x="813" y="251.5" font-size="14.2" font-weight="normal" fill="#231f20" text-anchor="start" textLength="91.5" lengthAdjust="spacingAndGlyphs">переработки</text><text x="825.5" y="270.5" font-size="14.2" font-weight="normal" fill="#231f20" text-anchor="start" textLength="79" lengthAdjust="spacingAndGlyphs">и хранения</text><text x="817" y="289.5" font-size="14.2" font-weight="normal" fill="#231f20" text-anchor="start" textLength="91.5" lengthAdjust="spacingAndGlyphs">информации</text><text x="94.2" y="471.8" font-size="14" font-weight="bold" fill="#00aeef" text-anchor="start" textLength="61" lengthAdjust="spacingAndGlyphs">БЛОК III</text><text x="94.2" y="502.4" font-size="14.2" font-weight="normal" fill="#231f20" text-anchor="start" textLength="147" lengthAdjust="spacingAndGlyphs">Программирования,</text><text x="94.2" y="522.2" font-size="14.2" font-weight="normal" fill="#231f20" text-anchor="start" textLength="159" lengthAdjust="spacingAndGlyphs">регуляции и контроля</text><text x="94.2" y="541.2" font-size="14.2" font-weight="normal" fill="#231f20" text-anchor="start" textLength="97" lengthAdjust="spacingAndGlyphs">деятельности</text><text x="524.5" y="680.6" font-size="14" font-weight="bold" fill="#00aeef" text-anchor="start" textLength="51.5" lengthAdjust="spacingAndGlyphs">БЛОК I</text><text x="589.5" y="680.6" font-size="14.2" font-weight="normal" fill="#231f20" text-anchor="start" textLength="128" lengthAdjust="spacingAndGlyphs">«Энергетический»</text><text x="94" y="748.2" font-size="17.5" font-weight="bold" fill="#00aeef" text-anchor="start" textLength="73.5" lengthAdjust="spacingAndGlyphs">Рис. 3.3.</text><text x="179" y="748.2" font-size="17.5" font-weight="normal" fill="#231f20" text-anchor="start" textLength="469" lengthAdjust="spacingAndGlyphs">Три структурно-функциональных блока по А.Р.Лурии.</text><text x="110.5" y="841" font-size="17.5" font-weight="bold" fill="#00aeef" text-anchor="start" textLength="52" lengthAdjust="spacingAndGlyphs" stroke="#00aeef" stroke-width="0.5">БЛОК</text><text x="163.5" y="923.4" font-size="18" font-weight="normal" fill="#3d3d3f" text-anchor="start" textLength="151" lengthAdjust="spacingAndGlyphs" stroke="#d7ecf9" stroke-width="0.55">«Энергетический»</text><text x="408" y="911" font-size="18" font-weight="normal" fill="#3d3d3f" text-anchor="start" textLength="178" lengthAdjust="spacingAndGlyphs" stroke="#d7ecf9" stroke-width="0.55">Приема, переработки</text><text x="397.5" y="935.2" font-size="18" font-weight="normal" fill="#3d3d3f" text-anchor="start" textLength="203.5" lengthAdjust="spacingAndGlyphs" stroke="#d7ecf9" stroke-width="0.55">и хранения информации</text><text x="684" y="898.6" font-size="18" font-weight="normal" fill="#3d3d3f" text-anchor="start" textLength="165.5" lengthAdjust="spacingAndGlyphs" stroke="#d7ecf9" stroke-width="0.55">Программирования,</text><text x="677" y="922.4" font-size="18" font-weight="normal" fill="#3d3d3f" text-anchor="start" textLength="182.5" lengthAdjust="spacingAndGlyphs" stroke="#d7ecf9" stroke-width="0.55">регуляции и контроля</text><text x="711.2" y="946.6" font-size="18" font-weight="normal" fill="#3d3d3f" text-anchor="start" textLength="112" lengthAdjust="spacingAndGlyphs" stroke="#d7ecf9" stroke-width="0.55">деятельности</text><text x="110" y="1012.4" font-size="17.5" font-weight="bold" fill="#00aeef" text-anchor="start" textLength="96" lengthAdjust="spacingAndGlyphs" stroke="#00aeef" stroke-width="0.5">ФУНКЦИИ</text><text x="153" y="1062.6" font-size="18" font-weight="normal" fill="#3d3d3f" text-anchor="start" textLength="172.5" lengthAdjust="spacingAndGlyphs" stroke="#d7ecf9" stroke-width="0.55">Нейродинамические</text><text x="442.5" y="1062.6" font-size="18" font-weight="normal" fill="#3d3d3f" text-anchor="start" textLength="114.5" lengthAdjust="spacingAndGlyphs" stroke="#d7ecf9" stroke-width="0.55">Регуляторные</text><text x="686.5" y="1062.6" font-size="18" font-weight="normal" fill="#3d3d3f" text-anchor="start" textLength="156" lengthAdjust="spacingAndGlyphs" stroke="#d7ecf9" stroke-width="0.55">Операциональные</text><text x="151.8" y="1144" font-size="17.5" font-weight="bold" fill="#fff" text-anchor="start" textLength="130" lengthAdjust="spacingAndGlyphs">Брадифрения</text><text x="152" y="1222.6" font-size="17.5" font-weight="bold" fill="#fff" text-anchor="start" textLength="281" lengthAdjust="spacingAndGlyphs">Подкорково-лобный синдром</text><text x="152" y="1300" font-size="17.5" font-weight="bold" fill="#fff" text-anchor="start" textLength="95" lengthAdjust="spacingAndGlyphs">Деменция</text><text x="94.5" y="1358.9" font-size="17.5" font-weight="bold" fill="#00aeef" text-anchor="start" textLength="76.5" lengthAdjust="spacingAndGlyphs">Рис. 3.4.</text><text x="181.5" y="1358.9" font-size="17.5" font-weight="normal" fill="#231f20" text-anchor="start" textLength="727" lengthAdjust="spacingAndGlyphs">Структура когнитивных нарушений при прогрессирующих заболеваниях с преоб-</text><text x="94.8" y="1380" font-size="17.5" font-weight="normal" fill="#231f20" text-anchor="start" textLength="553" lengthAdjust="spacingAndGlyphs">ладанием подкорково-лобных нарушений (например, при БП).</text>
</g>
</svg>
</body></html>
